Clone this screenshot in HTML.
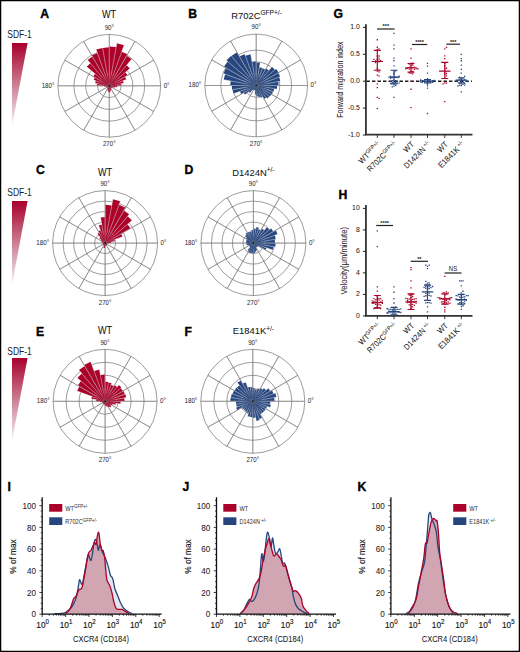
<!DOCTYPE html>
<html><head><meta charset="utf-8"><style>
html,body{margin:0;padding:0;background:#fff;width:520px;height:652px;overflow:hidden;}
svg{display:block;font-family:"Liberation Sans", sans-serif;}
</style></head><body>
<svg width="520" height="652" viewBox="0 0 520 652">
<rect x="0" y="0" width="520" height="652" fill="#fff"/>
<text transform="translate(40.20,18.00)" font-size="12.2" text-anchor="start" font-weight="bold" fill="#000" stroke="#000" stroke-width="0.35">A</text>
<text transform="translate(188.30,18.00)" font-size="12.2" text-anchor="start" font-weight="bold" fill="#000" stroke="#000" stroke-width="0.35">B</text>
<text transform="translate(109.00,18.20) scale(0.86,1)" font-size="10.6" text-anchor="middle" font-weight="normal" fill="#111" stroke="#111" stroke-width="0.05">WT</text>
<text transform="translate(256.50,18.50) scale(0.95,1)" font-size="9.9" text-anchor="middle" font-weight="normal" fill="#111" stroke="#111" stroke-width="0.05">R702C<tspan font-size="6.9" dy="-3.8">GFP+/-</tspan></text>
<defs><linearGradient id="g1" x1="0" y1="0" x2="0" y2="1"><stop offset="0" stop-color="#a8002c"/><stop offset="0.55" stop-color="#cf8a9c"/><stop offset="1" stop-color="#f4f2f3"/></linearGradient></defs>
<path d="M12,43L27.6,43L12,126Z" fill="url(#g1)"/>
<text transform="translate(19.50,38.00) scale(0.82,1)" font-size="10.4" text-anchor="middle" font-weight="normal" fill="#222">SDF-1</text>
<circle cx="109.30" cy="85.80" r="11.80" fill="none" stroke="#5a5a5a" stroke-width="0.6"/>
<circle cx="109.30" cy="85.80" r="23.60" fill="none" stroke="#5a5a5a" stroke-width="0.6"/>
<circle cx="109.30" cy="85.80" r="35.40" fill="none" stroke="#5a5a5a" stroke-width="0.6"/>
<circle cx="109.30" cy="85.80" r="51.40" fill="none" stroke="#5a5a5a" stroke-width="0.6"/>
<path d="M109.30,85.80L160.70,85.80M109.30,85.80L153.81,60.10M109.30,85.80L135.00,41.29M109.30,85.80L109.30,34.40M109.30,85.80L83.60,41.29M109.30,85.80L64.79,60.10M109.30,85.80L57.90,85.80M109.30,85.80L64.79,111.50M109.30,85.80L83.60,130.31M109.30,85.80L109.30,137.20M109.30,85.80L135.00,130.31M109.30,85.80L153.81,111.50" stroke="#5a5a5a" stroke-width="0.6" fill="none"/>
<path d="M109.30,85.80L121.30,85.80L121.12,83.72ZM109.30,85.80L123.68,83.26L123.02,80.81ZM109.30,85.80L126.31,79.61L124.98,76.75ZM109.30,85.80L127.49,75.30L125.39,72.30ZM109.30,85.80L129.91,68.51L126.59,65.19ZM109.30,85.80L131.67,59.14L126.70,55.66ZM109.30,85.80L127.45,54.36L121.72,51.69ZM109.30,85.80L124.08,45.21L116.80,43.26ZM109.30,85.80L116.14,47.00L109.30,46.40ZM109.30,85.80L109.30,47.30L102.61,47.88ZM109.30,85.80L102.61,47.88L96.13,49.62ZM109.30,85.80L97.33,52.91L91.80,55.49ZM109.30,85.80L92.40,56.53L87.57,59.91ZM109.30,85.80L90.34,63.20L86.70,66.84ZM109.30,85.80L95.05,73.84L93.19,76.50ZM109.30,85.80L94.92,77.50L93.70,80.12ZM109.30,85.80L95.77,80.87L95.12,83.30ZM109.30,85.80L96.99,83.63L96.80,85.80ZM109.30,85.80L104.30,85.80L104.38,86.67ZM109.30,85.80L106.35,86.32L106.48,86.83ZM109.30,85.80L106.95,86.66L107.13,87.05ZM109.30,85.80L107.13,87.05L107.38,87.41ZM109.30,85.80L107.38,87.41L107.69,87.72ZM109.30,85.80L107.37,88.10L107.80,88.40ZM109.30,85.80L107.30,89.26L107.93,89.56ZM109.30,85.80L107.59,90.50L108.43,90.72ZM109.30,85.80L108.17,92.20L109.30,92.30ZM109.30,85.80L109.30,92.30L110.43,92.20ZM109.30,85.80L110.17,90.72L111.01,90.50ZM109.30,85.80L110.67,89.56L111.30,89.26ZM109.30,85.80L110.80,88.40L111.23,88.10ZM109.30,85.80L111.23,88.10L111.60,87.73ZM109.30,85.80L111.60,87.73L111.90,87.30ZM109.30,85.80L112.76,87.80L113.06,87.17ZM109.30,85.80L114.94,87.85L115.21,86.84ZM109.30,85.80L117.18,87.19L117.30,85.80Z" fill="#aa0229"/>
<path d="M112.25,85.28L114.72,84.84M112.12,84.77L114.47,83.92M111.90,84.30L114.06,83.05M111.60,83.87L113.51,82.26M111.23,83.50L112.84,81.59M110.80,83.20L112.05,81.04M110.33,82.98L111.18,80.63M109.82,82.85L110.26,80.38M109.30,82.80L109.30,80.30M108.78,82.85L108.34,80.38M108.27,82.98L107.42,80.63M107.80,83.20L106.55,81.04M107.37,83.50L105.76,81.59M107.00,83.87L105.09,82.26M106.70,84.30L104.54,83.05M106.48,84.77L104.13,83.92M106.35,85.28L103.88,84.84M106.30,85.80L103.80,85.80M106.35,86.32L104.38,86.67M107.80,88.40L107.30,89.26M108.27,88.62L107.59,90.50M108.78,88.75L108.34,91.22M109.30,88.80L109.30,91.30M109.82,88.75L110.26,91.22M110.33,88.62L111.01,90.50M110.80,88.40L111.30,89.26M111.90,87.30L112.76,87.80M112.12,86.83L114.47,87.68M112.25,86.32L114.72,86.76M112.30,85.80L114.80,85.80" stroke="#fff" stroke-opacity="0.12" stroke-width="0.3" fill="none"/>
<path d="M114.72,84.84L117.18,84.41M114.47,83.92L116.82,83.06M114.06,83.05L116.23,81.80M113.51,82.26L115.43,80.66M112.84,81.59L114.44,79.67M112.05,81.04L113.30,78.87M111.18,80.63L112.04,78.28M110.26,80.38L110.69,77.92M109.30,80.30L109.30,77.80M108.34,80.38L107.91,77.92M107.42,80.63L106.56,78.28M106.55,81.04L105.30,78.87M105.76,81.59L104.16,79.67M105.09,82.26L103.17,80.66M104.54,83.05L102.37,81.80M104.13,83.92L101.78,83.06M103.88,84.84L101.42,84.41M103.80,85.80L101.30,85.80M108.34,91.22L108.17,92.20M109.30,91.30L109.30,92.30M110.26,91.22L110.43,92.20M114.47,87.68L114.94,87.85M114.72,86.76L117.18,87.19M114.80,85.80L117.30,85.80" stroke="#fff" stroke-opacity="0.35" stroke-width="0.38" fill="none"/>
<path d="M117.18,84.41L119.64,83.98M116.82,83.06L119.17,82.21M116.23,81.80L118.39,80.55M115.43,80.66L117.34,79.05M114.44,79.67L116.05,77.76M113.30,78.87L114.55,76.71M112.04,78.28L112.89,75.93M110.69,77.92L111.12,75.46M109.30,77.80L109.30,75.30M107.91,77.92L107.48,75.46M106.56,78.28L105.71,75.93M105.30,78.87L104.05,76.71M104.16,79.67L102.55,77.76M103.17,80.66L101.26,79.05M102.37,81.80L100.21,80.55M101.78,83.06L99.43,82.21M101.42,84.41L98.96,83.98M101.30,85.80L98.80,85.80M117.30,85.80L119.80,85.80" stroke="#fff" stroke-opacity="0.6" stroke-width="0.45" fill="none"/>
<path d="M119.64,83.98L123.68,83.26M119.17,82.21L126.31,79.61M118.39,80.55L127.49,75.30M117.34,79.05L129.91,68.51M116.05,77.76L131.67,59.14M114.55,76.71L127.45,54.36M112.89,75.93L124.08,45.21M111.12,75.46L116.80,43.26M109.30,75.30L109.30,46.40M107.48,75.46L102.61,47.88M105.71,75.93L96.13,49.62M104.05,76.71L91.80,55.49M102.55,77.76L87.57,59.91M101.26,79.05L86.70,66.84M100.21,80.55L93.19,76.50M99.43,82.21L93.70,80.12M98.96,83.98L95.12,83.30M98.80,85.80L96.80,85.80M119.80,85.80L121.30,85.80" stroke="#fff" stroke-opacity="0.85" stroke-width="0.5" fill="none"/>
<path d="M109.30,85.80L160.70,85.80M109.30,85.80L153.81,60.10M109.30,85.80L135.00,41.29M109.30,85.80L109.30,34.40M109.30,85.80L83.60,41.29M109.30,85.80L64.79,60.10M109.30,85.80L57.90,85.80M109.30,85.80L64.79,111.50M109.30,85.80L83.60,130.31M109.30,85.80L109.30,137.20M109.30,85.80L135.00,130.31M109.30,85.80L153.81,111.50" stroke="#8a8a8a" stroke-opacity="0.75" stroke-width="0.6" fill="none"/>
<circle cx="109.30" cy="85.80" r="1" fill="#111"/>
<text transform="translate(109.30,29.60) scale(0.92,1)" font-size="6.7" text-anchor="middle" font-weight="normal" fill="#222">90°</text>
<text transform="translate(109.30,146.20) scale(0.92,1)" font-size="6.7" text-anchor="middle" font-weight="normal" fill="#222">270°</text>
<text transform="translate(163.70,87.70) scale(0.92,1)" font-size="6.7" text-anchor="start" font-weight="normal" fill="#222">0°</text>
<text transform="translate(54.40,87.70) scale(0.92,1)" font-size="6.7" text-anchor="end" font-weight="normal" fill="#222">180°</text>
<circle cx="256.20" cy="85.50" r="11.80" fill="none" stroke="#5a5a5a" stroke-width="0.6"/>
<circle cx="256.20" cy="85.50" r="23.60" fill="none" stroke="#5a5a5a" stroke-width="0.6"/>
<circle cx="256.20" cy="85.50" r="35.40" fill="none" stroke="#5a5a5a" stroke-width="0.6"/>
<circle cx="256.20" cy="85.50" r="51.40" fill="none" stroke="#5a5a5a" stroke-width="0.6"/>
<path d="M256.20,85.50L307.60,85.50M256.20,85.50L300.71,59.80M256.20,85.50L281.90,40.99M256.20,85.50L256.20,34.10M256.20,85.50L230.50,40.99M256.20,85.50L211.69,59.80M256.20,85.50L204.80,85.50M256.20,85.50L211.69,111.20M256.20,85.50L230.50,130.01M256.20,85.50L256.20,136.90M256.20,85.50L281.90,130.01M256.20,85.50L300.71,111.20" stroke="#5a5a5a" stroke-width="0.6" fill="none"/>
<path d="M256.20,85.50L278.70,85.50L278.36,81.59ZM256.20,85.50L280.33,81.25L279.22,77.12ZM256.20,85.50L280.16,76.78L278.28,72.75ZM256.20,85.50L278.63,72.55L276.04,68.85ZM256.20,85.50L274.89,69.82L271.88,66.81ZM256.20,85.50L268.86,70.41L266.05,68.44ZM256.20,85.50L265.40,69.57L262.49,68.21ZM256.20,85.50L262.56,68.02L259.43,67.18ZM256.20,85.50L260.19,62.85L256.20,62.50ZM256.20,85.50L256.20,61.50L252.03,61.86ZM256.20,85.50L250.70,54.28L245.36,55.71ZM256.20,85.50L244.74,54.02L239.45,56.49ZM256.20,85.50L236.95,52.16L231.45,56.01ZM256.20,85.50L231.20,55.70L226.40,60.50ZM256.20,85.50L227.63,61.52L223.90,66.85ZM256.20,85.50L225.98,68.05L223.40,73.56ZM256.20,85.50L225.10,74.18L223.60,79.75ZM256.20,85.50L230.59,80.99L230.20,85.50ZM256.20,85.50L231.70,85.50L232.07,89.75ZM256.20,85.50L232.56,89.67L233.65,93.71ZM256.20,85.50L239.94,91.42L241.22,94.15ZM256.20,85.50L243.64,92.75L245.09,94.82ZM256.20,85.50L248.69,91.80L249.90,93.01ZM256.20,85.50L252.99,89.33L253.70,89.83ZM256.20,85.50L253.70,89.83L254.49,90.20ZM256.20,85.50L254.49,90.20L255.33,90.42ZM256.20,85.50L254.64,94.36L256.20,94.50ZM256.20,85.50L256.20,96.20L258.06,96.04ZM256.20,85.50L258.34,97.61L260.41,97.06ZM256.20,85.50L260.68,97.81L262.75,96.84ZM256.20,85.50L264.05,99.10L266.29,97.53ZM256.20,85.50L267.13,98.52L269.22,96.43ZM256.20,85.50L269.61,96.75L271.36,94.25ZM256.20,85.50L271.79,94.50L273.11,91.66ZM256.20,85.50L273.49,91.79L274.32,88.70ZM256.20,85.50L276.88,89.15L277.20,85.50Z" fill="#27467f"/>
<path d="M259.15,84.98L261.62,84.54M259.02,84.47L261.37,83.62M258.80,84.00L260.96,82.75M258.50,83.57L260.41,81.96M258.13,83.20L259.74,81.29M257.70,82.90L258.95,80.74M257.23,82.68L258.08,80.33M256.72,82.55L257.16,80.08M256.20,82.50L256.20,80.00M255.68,82.55L255.24,80.08M255.17,82.68L254.32,80.33M254.70,82.90L253.45,80.74M254.27,83.20L252.66,81.29M253.90,83.57L251.99,81.96M253.60,84.00L251.44,82.75M253.38,84.47L251.03,83.62M253.25,84.98L250.78,84.54M253.20,85.50L250.70,85.50M253.25,86.02L250.78,86.46M253.38,86.53L251.03,87.38M253.60,87.00L251.44,88.25M253.90,87.43L251.99,89.04M254.27,87.80L252.66,89.71M254.70,88.10L253.70,89.83M255.17,88.32L254.49,90.20M255.68,88.45L255.24,90.92M256.20,88.50L256.20,91.00M256.72,88.45L257.16,90.92M257.23,88.32L258.08,90.67M257.70,88.10L258.95,90.26M258.13,87.80L259.74,89.71M258.50,87.43L260.41,89.04M258.80,87.00L260.96,88.25M259.02,86.53L261.37,87.38M259.15,86.02L261.62,86.46M259.20,85.50L261.70,85.50" stroke="#fff" stroke-opacity="0.12" stroke-width="0.3" fill="none"/>
<path d="M261.62,84.54L264.08,84.11M261.37,83.62L263.72,82.76M260.96,82.75L263.13,81.50M260.41,81.96L262.33,80.36M259.74,81.29L261.34,79.37M258.95,80.74L260.20,78.57M258.08,80.33L258.94,77.98M257.16,80.08L257.59,77.62M256.20,80.00L256.20,77.50M255.24,80.08L254.81,77.62M254.32,80.33L253.46,77.98M253.45,80.74L252.20,78.57M252.66,81.29L251.06,79.37M251.99,81.96L250.07,80.36M251.44,82.75L249.27,81.50M251.03,83.62L248.68,82.76M250.78,84.54L248.32,84.11M250.70,85.50L248.20,85.50M250.78,86.46L248.32,86.89M251.03,87.38L248.68,88.24M251.44,88.25L249.27,89.50M251.99,89.04L250.07,90.64M252.66,89.71L251.06,91.63M255.24,90.92L254.81,93.38M256.20,91.00L256.20,93.50M257.16,90.92L257.59,93.38M258.08,90.67L258.94,93.02M258.95,90.26L260.20,92.43M259.74,89.71L261.34,91.63M260.41,89.04L262.33,90.64M260.96,88.25L263.13,89.50M261.37,87.38L263.72,88.24M261.62,86.46L264.08,86.89M261.70,85.50L264.20,85.50" stroke="#fff" stroke-opacity="0.35" stroke-width="0.38" fill="none"/>
<path d="M264.08,84.11L266.54,83.68M263.72,82.76L266.07,81.91M263.13,81.50L265.29,80.25M262.33,80.36L264.24,78.75M261.34,79.37L262.95,77.46M260.20,78.57L261.45,76.41M258.94,77.98L259.79,75.63M257.59,77.62L258.02,75.16M256.20,77.50L256.20,75.00M254.81,77.62L254.38,75.16M253.46,77.98L252.61,75.63M252.20,78.57L250.95,76.41M251.06,79.37L249.45,77.46M250.07,80.36L248.16,78.75M249.27,81.50L247.11,80.25M248.68,82.76L246.33,81.91M248.32,84.11L245.86,83.68M248.20,85.50L245.70,85.50M248.32,86.89L245.86,87.32M248.68,88.24L246.33,89.09M249.27,89.50L247.11,90.75M250.07,90.64L248.16,92.25M251.06,91.63L249.90,93.01M254.81,93.38L254.64,94.36M256.20,93.50L256.20,96.00M257.59,93.38L258.02,95.84M258.94,93.02L259.79,95.37M260.20,92.43L261.45,94.59M261.34,91.63L262.95,93.54M262.33,90.64L264.24,92.25M263.13,89.50L265.29,90.75M263.72,88.24L266.07,89.09M264.08,86.89L266.54,87.32M264.20,85.50L266.70,85.50" stroke="#fff" stroke-opacity="0.6" stroke-width="0.45" fill="none"/>
<path d="M266.54,83.68L280.33,81.25M266.07,81.91L280.16,76.78M265.29,80.25L278.63,72.55M264.24,78.75L276.04,68.85M262.95,77.46L271.88,66.81M261.45,76.41L266.05,68.44M259.79,75.63L262.56,68.02M258.02,75.16L260.19,62.85M256.20,75.00L256.20,61.50M254.38,75.16L250.70,54.28M252.61,75.63L244.74,54.02M250.95,76.41L236.95,52.16M249.45,77.46L231.20,55.70M248.16,78.75L226.40,60.50M247.11,80.25L223.90,66.85M246.33,81.91L223.40,73.56M245.86,83.68L223.60,79.75M245.70,85.50L230.20,85.50M245.86,87.32L232.07,89.75M246.33,89.09L233.65,93.71M247.11,90.75L241.22,94.15M248.16,92.25L245.09,94.82M256.20,96.00L256.20,96.20M258.02,95.84L258.34,97.61M259.79,95.37L260.68,97.81M261.45,94.59L264.05,99.10M262.95,93.54L267.13,98.52M264.24,92.25L269.61,96.75M265.29,90.75L271.79,94.50M266.07,89.09L273.49,91.79M266.54,87.32L276.88,89.15M266.70,85.50L278.70,85.50" stroke="#fff" stroke-opacity="0.85" stroke-width="0.5" fill="none"/>
<path d="M256.20,85.50L307.60,85.50M256.20,85.50L300.71,59.80M256.20,85.50L281.90,40.99M256.20,85.50L256.20,34.10M256.20,85.50L230.50,40.99M256.20,85.50L211.69,59.80M256.20,85.50L204.80,85.50M256.20,85.50L211.69,111.20M256.20,85.50L230.50,130.01M256.20,85.50L256.20,136.90M256.20,85.50L281.90,130.01M256.20,85.50L300.71,111.20" stroke="#8a8a8a" stroke-opacity="0.75" stroke-width="0.6" fill="none"/>
<circle cx="256.20" cy="85.50" r="1" fill="#111"/>
<text transform="translate(256.20,29.30) scale(0.92,1)" font-size="6.7" text-anchor="middle" font-weight="normal" fill="#222">90°</text>
<text transform="translate(256.20,145.90) scale(0.92,1)" font-size="6.7" text-anchor="middle" font-weight="normal" fill="#222">270°</text>
<text transform="translate(310.60,87.40) scale(0.92,1)" font-size="6.7" text-anchor="start" font-weight="normal" fill="#222">0°</text>
<text transform="translate(201.30,87.40) scale(0.92,1)" font-size="6.7" text-anchor="end" font-weight="normal" fill="#222">180°</text>
<text transform="translate(36.00,174.40)" font-size="12.2" text-anchor="start" font-weight="bold" fill="#000" stroke="#000" stroke-width="0.35">C</text>
<text transform="translate(184.50,174.40)" font-size="12.2" text-anchor="start" font-weight="bold" fill="#000" stroke="#000" stroke-width="0.35">D</text>
<text transform="translate(105.00,175.70) scale(0.86,1)" font-size="10.6" text-anchor="middle" font-weight="normal" fill="#111" stroke="#111" stroke-width="0.05">WT</text>
<text transform="translate(253.40,175.70) scale(0.95,1)" font-size="9.9" text-anchor="middle" font-weight="normal" fill="#111" stroke="#111" stroke-width="0.05">D1424N<tspan font-size="6.9" dy="-3.8">+/-</tspan></text>
<defs><linearGradient id="g2" x1="0" y1="0" x2="0" y2="1"><stop offset="0" stop-color="#a8002c"/><stop offset="0.55" stop-color="#cf8a9c"/><stop offset="1" stop-color="#f4f2f3"/></linearGradient></defs>
<path d="M12,201L27.6,201L12,285Z" fill="url(#g2)"/>
<text transform="translate(19.50,196.00) scale(0.82,1)" font-size="10.4" text-anchor="middle" font-weight="normal" fill="#222">SDF-1</text>
<circle cx="105.10" cy="243.10" r="10.50" fill="none" stroke="#5a5a5a" stroke-width="0.6"/>
<circle cx="105.10" cy="243.10" r="21.00" fill="none" stroke="#5a5a5a" stroke-width="0.6"/>
<circle cx="105.10" cy="243.10" r="31.50" fill="none" stroke="#5a5a5a" stroke-width="0.6"/>
<circle cx="105.10" cy="243.10" r="42.00" fill="none" stroke="#5a5a5a" stroke-width="0.6"/>
<circle cx="105.10" cy="243.10" r="52.50" fill="none" stroke="#5a5a5a" stroke-width="0.6"/>
<path d="M105.10,243.10L157.60,243.10M105.10,243.10L150.57,216.85M105.10,243.10L131.35,197.63M105.10,243.10L105.10,190.60M105.10,243.10L78.85,197.63M105.10,243.10L59.63,216.85M105.10,243.10L52.60,243.10M105.10,243.10L59.63,269.35M105.10,243.10L78.85,288.57M105.10,243.10L105.10,295.60M105.10,243.10L131.35,288.57M105.10,243.10L150.57,269.35" stroke="#5a5a5a" stroke-width="0.6" fill="none"/>
<path d="M105.10,243.10L111.10,243.10L111.01,242.06ZM105.10,243.10L114.95,241.36L114.50,239.68ZM105.10,243.10L122.48,236.77L121.12,233.85ZM105.10,243.10L130.56,228.40L127.62,224.20ZM105.10,243.10L131.99,220.54L127.66,216.21ZM105.10,243.10L129.20,214.37L123.85,210.62ZM105.10,243.10L125.50,207.77L119.05,204.76ZM105.10,243.10L120.32,201.28L112.83,199.28ZM105.10,243.10L111.75,205.38L105.10,204.80ZM105.10,243.10L105.10,217.00L100.57,217.40ZM105.10,243.10L101.84,224.59L98.67,225.43ZM105.10,243.10L100.45,230.32L98.30,231.32ZM105.10,243.10L99.10,232.71L97.39,233.91ZM105.10,243.10L100.28,237.35L99.35,238.28ZM105.10,243.10L101.27,239.89L100.77,240.60ZM105.10,243.10L101.64,241.10L101.34,241.73ZM105.10,243.10L101.81,241.90L101.65,242.49ZM105.10,243.10L102.15,242.58L102.10,243.10ZM105.10,243.10L102.60,243.10L102.64,243.53ZM105.10,243.10L102.64,243.53L102.75,243.96ZM105.10,243.10L102.75,243.96L102.93,244.35ZM105.10,243.10L102.93,244.35L103.18,244.71ZM105.10,243.10L103.18,244.71L103.49,245.02ZM105.10,243.10L103.49,245.02L103.85,245.27ZM105.10,243.10L103.85,245.27L104.24,245.45ZM105.10,243.10L103.39,247.80L104.23,248.02ZM105.10,243.10L104.23,248.02L105.10,248.10ZM105.10,243.10L105.10,246.10L105.62,246.05ZM105.10,243.10L105.53,245.56L105.96,245.45ZM105.10,243.10L105.96,245.45L106.35,245.27ZM105.10,243.10L106.35,245.27L106.71,245.02ZM105.10,243.10L106.71,245.02L107.02,244.71ZM105.10,243.10L107.02,244.71L107.27,244.35ZM105.10,243.10L107.27,244.35L107.45,243.96ZM105.10,243.10L107.45,243.96L107.56,243.53ZM105.10,243.10L107.56,243.53L107.60,243.10Z" fill="#aa0229"/>
<path d="M108.05,242.58L110.52,242.14M107.92,242.07L110.27,241.22M107.70,241.60L109.86,240.35M107.40,241.17L109.31,239.56M107.03,240.80L108.64,238.89M106.60,240.50L107.85,238.34M106.13,240.28L106.98,237.93M105.62,240.15L106.06,237.68M105.10,240.10L105.10,237.60M104.58,240.15L104.14,237.68M104.07,240.28L103.22,237.93M103.60,240.50L102.35,238.34M103.17,240.80L101.56,238.89M102.80,241.17L100.89,239.56M102.50,241.60L100.77,240.60M102.28,242.07L101.34,241.73M102.15,242.58L101.65,242.49M104.07,245.92L103.39,247.80M104.58,246.05L104.23,248.02M105.10,246.10L105.10,248.10M108.10,243.10L110.60,243.10" stroke="#fff" stroke-opacity="0.12" stroke-width="0.3" fill="none"/>
<path d="M110.52,242.14L112.98,241.71M110.27,241.22L112.62,240.36M109.86,240.35L112.03,239.10M109.31,239.56L111.23,237.96M108.64,238.89L110.24,236.97M107.85,238.34L109.10,236.17M106.98,237.93L107.84,235.58M106.06,237.68L106.49,235.22M105.10,237.60L105.10,235.10M104.14,237.68L103.71,235.22M103.22,237.93L102.36,235.58M102.35,238.34L101.10,236.17M101.56,238.89L99.96,236.97M100.89,239.56L99.35,238.28M110.60,243.10L111.10,243.10" stroke="#fff" stroke-opacity="0.35" stroke-width="0.38" fill="none"/>
<path d="M112.98,241.71L114.95,241.36M112.62,240.36L114.97,239.51M112.03,239.10L114.19,237.85M111.23,237.96L113.14,236.35M110.24,236.97L111.85,235.06M109.10,236.17L110.35,234.01M107.84,235.58L108.69,233.23M106.49,235.22L106.92,232.76M105.10,235.10L105.10,232.60M103.71,235.22L103.28,232.76M102.36,235.58L101.51,233.23M101.10,236.17L99.85,234.01M99.96,236.97L98.35,235.06" stroke="#fff" stroke-opacity="0.6" stroke-width="0.45" fill="none"/>
<path d="M114.97,239.51L122.48,236.77M114.19,237.85L130.56,228.40M113.14,236.35L131.99,220.54M111.85,235.06L129.20,214.37M110.35,234.01L125.50,207.77M108.69,233.23L120.32,201.28M106.92,232.76L112.83,199.28M105.10,232.60L105.10,204.80M103.28,232.76L100.57,217.40M101.51,233.23L98.67,225.43M99.85,234.01L98.30,231.32M98.35,235.06L97.39,233.91" stroke="#fff" stroke-opacity="0.85" stroke-width="0.5" fill="none"/>
<path d="M105.10,243.10L157.60,243.10M105.10,243.10L150.57,216.85M105.10,243.10L131.35,197.63M105.10,243.10L105.10,190.60M105.10,243.10L78.85,197.63M105.10,243.10L59.63,216.85M105.10,243.10L52.60,243.10M105.10,243.10L59.63,269.35M105.10,243.10L78.85,288.57M105.10,243.10L105.10,295.60M105.10,243.10L131.35,288.57M105.10,243.10L150.57,269.35" stroke="#8a8a8a" stroke-opacity="0.75" stroke-width="0.6" fill="none"/>
<circle cx="105.10" cy="243.10" r="1" fill="#111"/>
<text transform="translate(105.10,185.80) scale(0.92,1)" font-size="6.7" text-anchor="middle" font-weight="normal" fill="#222">90°</text>
<text transform="translate(105.10,304.60) scale(0.92,1)" font-size="6.7" text-anchor="middle" font-weight="normal" fill="#222">270°</text>
<text transform="translate(160.60,245.00) scale(0.92,1)" font-size="6.7" text-anchor="start" font-weight="normal" fill="#222">0°</text>
<text transform="translate(49.10,245.00) scale(0.92,1)" font-size="6.7" text-anchor="end" font-weight="normal" fill="#222">180°</text>
<circle cx="253.40" cy="243.10" r="10.50" fill="none" stroke="#5a5a5a" stroke-width="0.6"/>
<circle cx="253.40" cy="243.10" r="21.00" fill="none" stroke="#5a5a5a" stroke-width="0.6"/>
<circle cx="253.40" cy="243.10" r="31.50" fill="none" stroke="#5a5a5a" stroke-width="0.6"/>
<circle cx="253.40" cy="243.10" r="42.00" fill="none" stroke="#5a5a5a" stroke-width="0.6"/>
<circle cx="253.40" cy="243.10" r="52.50" fill="none" stroke="#5a5a5a" stroke-width="0.6"/>
<path d="M253.40,243.10L305.90,243.10M253.40,243.10L298.87,216.85M253.40,243.10L279.65,197.63M253.40,243.10L253.40,190.60M253.40,243.10L227.15,197.63M253.40,243.10L207.93,216.85M253.40,243.10L200.90,243.10M253.40,243.10L207.93,269.35M253.40,243.10L227.15,288.57M253.40,243.10L253.40,295.60M253.40,243.10L279.65,288.57M253.40,243.10L298.87,269.35" stroke="#5a5a5a" stroke-width="0.6" fill="none"/>
<path d="M253.40,243.10L275.00,243.10L274.67,239.35ZM253.40,243.10L275.85,239.14L274.82,235.30ZM253.40,243.10L277.64,234.28L275.74,230.20ZM253.40,243.10L273.32,231.60L271.02,228.32ZM253.40,243.10L269.33,229.73L266.77,227.17ZM253.40,243.10L264.20,230.23L261.80,228.55ZM253.40,243.10L260.80,230.28L258.46,229.19ZM253.40,243.10L258.97,227.78L256.23,227.05ZM253.40,243.10L255.92,228.82L253.40,228.60ZM253.40,243.10L253.40,230.10L251.14,230.30ZM253.40,243.10L251.32,231.28L249.30,231.82ZM253.40,243.10L249.30,231.82L247.40,232.71ZM253.40,243.10L247.25,232.45L245.49,233.68ZM253.40,243.10L246.39,234.75L245.05,236.09ZM253.40,243.10L246.51,237.31L245.61,238.60ZM253.40,243.10L246.90,239.35L246.35,240.53ZM253.40,243.10L246.35,240.53L246.01,241.80ZM253.40,243.10L246.01,241.80L245.90,243.10ZM253.40,243.10L246.40,243.10L246.51,244.32ZM253.40,243.10L246.51,244.32L246.82,245.49ZM253.40,243.10L248.70,244.81L249.07,245.60ZM253.40,243.10L249.07,245.60L249.57,246.31ZM253.40,243.10L249.57,246.31L250.19,246.93ZM253.40,243.10L247.61,249.99L248.90,250.89ZM253.40,243.10L248.25,252.02L249.88,252.78ZM253.40,243.10L249.84,252.87L251.59,253.34ZM253.40,243.10L251.66,252.95L253.40,253.10ZM253.40,243.10L253.40,253.10L255.14,252.95ZM253.40,243.10L254.96,251.96L256.48,251.56ZM253.40,243.10L256.14,250.62L257.40,250.03ZM253.40,243.10L255.90,247.43L256.61,246.93ZM253.40,243.10L256.61,246.93L257.23,246.31ZM253.40,243.10L257.61,246.64L258.16,245.85ZM253.40,243.10L265.52,250.10L266.56,247.89ZM253.40,243.10L272.57,250.08L273.49,246.64ZM253.40,243.10L275.26,246.95L275.60,243.10Z" fill="#27467f"/>
<path d="M256.35,242.58L258.82,242.14M256.22,242.07L258.57,241.22M256.00,241.60L258.16,240.35M255.70,241.17L257.61,239.56M255.33,240.80L256.94,238.89M254.90,240.50L256.15,238.34M254.43,240.28L255.28,237.93M253.92,240.15L254.36,237.68M253.40,240.10L253.40,237.60M252.88,240.15L252.44,237.68M252.37,240.28L251.52,237.93M251.90,240.50L250.65,238.34M251.47,240.80L249.86,238.89M251.10,241.17L249.19,239.56M250.80,241.60L248.64,240.35M250.58,242.07L248.23,241.22M250.45,242.58L247.98,242.14M250.40,243.10L247.90,243.10M250.45,243.62L247.98,244.06M250.58,244.13L248.23,244.98M250.80,244.60L249.07,245.60M251.10,245.03L249.57,246.31M251.47,245.40L249.86,247.31M251.90,245.70L250.65,247.86M252.37,245.92L251.52,248.27M252.88,246.05L252.44,248.52M253.40,246.10L253.40,248.60M253.92,246.05L254.36,248.52M254.43,245.92L255.28,248.27M254.90,245.70L256.15,247.86M255.33,245.40L256.61,246.93M255.70,245.03L257.61,246.64M256.00,244.60L258.16,245.85M256.22,244.13L258.57,244.98M256.35,243.62L258.82,244.06M256.40,243.10L258.90,243.10" stroke="#fff" stroke-opacity="0.12" stroke-width="0.3" fill="none"/>
<path d="M258.82,242.14L261.28,241.71M258.57,241.22L260.92,240.36M258.16,240.35L260.33,239.10M257.61,239.56L259.53,237.96M256.94,238.89L258.54,236.97M256.15,238.34L257.40,236.17M255.28,237.93L256.14,235.58M254.36,237.68L254.79,235.22M253.40,237.60L253.40,235.10M252.44,237.68L252.01,235.22M251.52,237.93L250.66,235.58M250.65,238.34L249.40,236.17M249.86,238.89L248.26,236.97M249.19,239.56L247.27,237.96M248.64,240.35L246.47,239.10M248.23,241.22L246.35,240.53M247.98,242.14L246.01,241.80M247.90,243.10L245.90,243.10M247.98,244.06L246.51,244.32M248.23,244.98L246.82,245.49M249.86,247.31L248.26,249.23M250.65,247.86L249.40,250.03M251.52,248.27L250.66,250.62M252.44,248.52L252.01,250.98M253.40,248.60L253.40,251.10M254.36,248.52L254.79,250.98M255.28,248.27L256.14,250.62M256.15,247.86L257.40,250.03M258.16,245.85L260.33,247.10M258.57,244.98L260.92,245.84M258.82,244.06L261.28,244.49M258.90,243.10L261.40,243.10" stroke="#fff" stroke-opacity="0.35" stroke-width="0.38" fill="none"/>
<path d="M261.28,241.71L263.74,241.28M260.92,240.36L263.27,239.51M260.33,239.10L262.49,237.85M259.53,237.96L261.44,236.35M258.54,236.97L260.15,235.06M257.40,236.17L258.65,234.01M256.14,235.58L256.99,233.23M254.79,235.22L255.22,232.76M253.40,235.10L253.40,232.60M252.01,235.22L251.58,232.76M250.66,235.58L249.81,233.23M249.40,236.17L248.15,234.01M248.26,236.97L246.65,235.06M247.27,237.96L245.36,236.35M246.47,239.10L245.61,238.60M248.26,249.23L247.61,249.99M249.40,250.03L248.25,252.02M250.66,250.62L249.84,252.87M252.01,250.98L251.59,253.34M253.40,251.10L253.40,253.10M254.79,250.98L255.14,252.95M256.14,250.62L256.48,251.56M260.33,247.10L262.49,248.35M260.92,245.84L263.27,246.69M261.28,244.49L263.74,244.92M261.40,243.10L263.90,243.10" stroke="#fff" stroke-opacity="0.6" stroke-width="0.45" fill="none"/>
<path d="M263.74,241.28L275.85,239.14M263.27,239.51L277.64,234.28M262.49,237.85L275.74,230.20M261.44,236.35L271.02,228.32M260.15,235.06L266.77,227.17M258.65,234.01L261.80,228.55M256.99,233.23L258.97,227.78M255.22,232.76L256.23,227.05M253.40,232.60L253.40,228.60M251.58,232.76L251.14,230.30M249.81,233.23L249.30,231.82M248.15,234.01L247.25,232.45M246.65,235.06L245.49,233.68M245.36,236.35L245.05,236.09M262.49,248.35L265.52,250.10M263.27,246.69L272.57,250.08M263.74,244.92L275.26,246.95M263.90,243.10L275.60,243.10" stroke="#fff" stroke-opacity="0.85" stroke-width="0.5" fill="none"/>
<path d="M253.40,243.10L305.90,243.10M253.40,243.10L298.87,216.85M253.40,243.10L279.65,197.63M253.40,243.10L253.40,190.60M253.40,243.10L227.15,197.63M253.40,243.10L207.93,216.85M253.40,243.10L200.90,243.10M253.40,243.10L207.93,269.35M253.40,243.10L227.15,288.57M253.40,243.10L253.40,295.60M253.40,243.10L279.65,288.57M253.40,243.10L298.87,269.35" stroke="#8a8a8a" stroke-opacity="0.75" stroke-width="0.6" fill="none"/>
<circle cx="253.40" cy="243.10" r="1" fill="#111"/>
<text transform="translate(253.40,185.80) scale(0.92,1)" font-size="6.7" text-anchor="middle" font-weight="normal" fill="#222">90°</text>
<text transform="translate(253.40,304.60) scale(0.92,1)" font-size="6.7" text-anchor="middle" font-weight="normal" fill="#222">270°</text>
<text transform="translate(308.90,245.00) scale(0.92,1)" font-size="6.7" text-anchor="start" font-weight="normal" fill="#222">0°</text>
<text transform="translate(197.40,245.00) scale(0.92,1)" font-size="6.7" text-anchor="end" font-weight="normal" fill="#222">180°</text>
<text transform="translate(36.00,336.20)" font-size="12.2" text-anchor="start" font-weight="bold" fill="#000" stroke="#000" stroke-width="0.35">E</text>
<text transform="translate(184.50,336.20)" font-size="12.2" text-anchor="start" font-weight="bold" fill="#000" stroke="#000" stroke-width="0.35">F</text>
<text transform="translate(105.00,334.40) scale(0.86,1)" font-size="10.6" text-anchor="middle" font-weight="normal" fill="#111" stroke="#111" stroke-width="0.05">WT</text>
<text transform="translate(253.40,334.40) scale(0.95,1)" font-size="9.9" text-anchor="middle" font-weight="normal" fill="#111" stroke="#111" stroke-width="0.05">E1841K<tspan font-size="6.9" dy="-3.8">+/-</tspan></text>
<defs><linearGradient id="g3" x1="0" y1="0" x2="0" y2="1"><stop offset="0" stop-color="#a8002c"/><stop offset="0.55" stop-color="#cf8a9c"/><stop offset="1" stop-color="#f4f2f3"/></linearGradient></defs>
<path d="M12,358L27.6,358L12,441Z" fill="url(#g3)"/>
<text transform="translate(19.50,355.40) scale(0.82,1)" font-size="10.4" text-anchor="middle" font-weight="normal" fill="#222">SDF-1</text>
<circle cx="105.10" cy="401.30" r="13.00" fill="none" stroke="#5a5a5a" stroke-width="0.6"/>
<circle cx="105.10" cy="401.30" r="26.00" fill="none" stroke="#5a5a5a" stroke-width="0.6"/>
<circle cx="105.10" cy="401.30" r="39.00" fill="none" stroke="#5a5a5a" stroke-width="0.6"/>
<circle cx="105.10" cy="401.30" r="52.00" fill="none" stroke="#5a5a5a" stroke-width="0.6"/>
<path d="M105.10,401.30L157.10,401.30M105.10,401.30L150.13,375.30M105.10,401.30L131.10,356.27M105.10,401.30L105.10,349.30M105.10,401.30L79.10,356.27M105.10,401.30L60.07,375.30M105.10,401.30L53.10,401.30M105.10,401.30L60.07,427.30M105.10,401.30L79.10,446.33M105.10,401.30L105.10,453.30M105.10,401.30L131.10,446.33M105.10,401.30L150.13,427.30" stroke="#5a5a5a" stroke-width="0.6" fill="none"/>
<path d="M105.10,401.30L124.60,401.30L124.30,397.91ZM105.10,401.30L126.27,397.57L125.30,393.95ZM105.10,401.30L124.83,394.12L123.29,390.80ZM105.10,401.30L122.85,391.05L120.80,388.12ZM105.10,401.30L121.42,387.61L118.79,384.98ZM105.10,401.30L117.12,386.97L114.45,385.11ZM105.10,401.30L113.85,386.14L111.09,384.86ZM105.10,401.30L111.63,383.35L108.42,382.49ZM105.10,401.30L108.50,382.00L105.10,381.70ZM105.10,401.30L105.10,374.60L100.46,375.01ZM105.10,401.30L99.49,369.49L94.05,370.95ZM105.10,401.30L90.74,361.83L84.10,364.93ZM105.10,401.30L84.75,366.05L78.94,370.12ZM105.10,401.30L81.77,373.49L77.29,377.97ZM105.10,401.30L80.97,381.05L77.82,385.55ZM105.10,401.30L79.29,386.40L77.10,391.11ZM105.10,401.30L91.94,396.51L91.31,398.87ZM105.10,401.30L96.24,399.74L96.10,401.30ZM105.10,401.30L100.10,401.30L100.18,402.17ZM105.10,401.30L102.15,401.82L102.28,402.33ZM105.10,401.30L102.28,402.33L102.50,402.80ZM105.10,401.30L102.50,402.80L102.80,403.23ZM105.10,401.30L102.80,403.23L103.17,403.60ZM105.10,401.30L103.17,403.60L103.60,403.90ZM105.10,401.30L103.60,403.90L104.07,404.12ZM105.10,401.30L104.07,404.12L104.58,404.25ZM105.10,401.30L104.41,405.24L105.10,405.30ZM105.10,401.30L105.10,405.30L105.79,405.24ZM105.10,401.30L105.97,406.22L106.81,406.00ZM105.10,401.30L107.15,406.94L108.10,406.50ZM105.10,401.30L108.60,407.36L109.60,406.66ZM105.10,401.30L110.24,407.43L111.23,406.44ZM105.10,401.30L110.46,405.80L111.16,404.80ZM105.10,401.30L112.03,405.30L112.62,404.04ZM105.10,401.30L115.44,405.06L115.93,403.21ZM105.10,401.30L120.36,403.99L120.60,401.30Z" fill="#aa0229"/>
<path d="M108.05,400.78L110.52,400.34M107.92,400.27L110.27,399.42M107.70,399.80L109.86,398.55M107.40,399.37L109.31,397.76M107.03,399.00L108.64,397.09M106.60,398.70L107.85,396.54M106.13,398.48L106.98,396.13M105.62,398.35L106.06,395.88M105.10,398.30L105.10,395.80M104.58,398.35L104.14,395.88M104.07,398.48L103.22,396.13M103.60,398.70L102.35,396.54M103.17,399.00L101.56,397.09M102.80,399.37L100.89,397.76M102.50,399.80L100.34,398.55M102.28,400.27L99.93,399.42M102.15,400.78L99.68,400.34M102.10,401.30L99.60,401.30M102.15,401.82L100.18,402.17M104.58,404.25L104.41,405.24M105.10,404.30L105.10,405.30M105.62,404.25L105.97,406.22M106.13,404.12L106.98,406.47M106.60,403.90L107.85,406.06M107.03,403.60L108.64,405.51M107.40,403.23L109.31,404.84M107.70,402.80L109.86,404.05M107.92,402.33L110.27,403.18M108.05,401.82L110.52,402.26M108.10,401.30L110.60,401.30" stroke="#fff" stroke-opacity="0.12" stroke-width="0.3" fill="none"/>
<path d="M110.52,400.34L112.98,399.91M110.27,399.42L112.62,398.56M109.86,398.55L112.03,397.30M109.31,397.76L111.23,396.16M108.64,397.09L110.24,395.17M107.85,396.54L109.10,394.37M106.98,396.13L107.84,393.78M106.06,395.88L106.49,393.42M105.10,395.80L105.10,393.30M104.14,395.88L103.71,393.42M103.22,396.13L102.36,393.78M102.35,396.54L101.10,394.37M101.56,397.09L99.96,395.17M100.89,397.76L98.97,396.16M100.34,398.55L98.17,397.30M99.93,399.42L97.58,398.56M99.68,400.34L97.22,399.91M99.60,401.30L97.10,401.30M106.98,406.47L107.15,406.94M107.85,406.06L108.60,407.36M108.64,405.51L110.24,407.43M109.31,404.84L111.23,406.44M109.86,404.05L112.03,405.30M110.27,403.18L112.62,404.04M110.52,402.26L112.98,402.69M110.60,401.30L113.10,401.30" stroke="#fff" stroke-opacity="0.35" stroke-width="0.38" fill="none"/>
<path d="M112.98,399.91L115.44,399.48M112.62,398.56L114.97,397.71M112.03,397.30L114.19,396.05M111.23,396.16L113.14,394.55M110.24,395.17L111.85,393.26M109.10,394.37L110.35,392.21M107.84,393.78L108.69,391.43M106.49,393.42L106.92,390.96M105.10,393.30L105.10,390.80M103.71,393.42L103.28,390.96M102.36,393.78L101.51,391.43M101.10,394.37L99.85,392.21M99.96,395.17L98.35,393.26M98.97,396.16L97.06,394.55M98.17,397.30L96.01,396.05M97.58,398.56L95.23,397.71M97.22,399.91L94.76,399.48M97.10,401.30L96.10,401.30M112.62,404.04L114.97,404.89M112.98,402.69L115.44,403.12M113.10,401.30L115.60,401.30" stroke="#fff" stroke-opacity="0.6" stroke-width="0.45" fill="none"/>
<path d="M115.44,399.48L126.27,397.57M114.97,397.71L125.30,393.95M114.19,396.05L123.29,390.80M113.14,394.55L121.42,387.61M111.85,393.26L118.79,384.98M110.35,392.21L114.45,385.11M108.69,391.43L111.63,383.35M106.92,390.96L108.50,382.00M105.10,390.80L105.10,374.60M103.28,390.96L99.49,369.49M101.51,391.43L90.74,361.83M99.85,392.21L84.10,364.93M98.35,393.26L78.94,370.12M97.06,394.55L77.29,377.97M96.01,396.05L77.82,385.55M95.23,397.71L77.10,391.11M94.76,399.48L91.31,398.87M114.97,404.89L115.44,405.06M115.44,403.12L120.36,403.99M115.60,401.30L124.60,401.30" stroke="#fff" stroke-opacity="0.85" stroke-width="0.5" fill="none"/>
<path d="M105.10,401.30L157.10,401.30M105.10,401.30L150.13,375.30M105.10,401.30L131.10,356.27M105.10,401.30L105.10,349.30M105.10,401.30L79.10,356.27M105.10,401.30L60.07,375.30M105.10,401.30L53.10,401.30M105.10,401.30L60.07,427.30M105.10,401.30L79.10,446.33M105.10,401.30L105.10,453.30M105.10,401.30L131.10,446.33M105.10,401.30L150.13,427.30" stroke="#8a8a8a" stroke-opacity="0.75" stroke-width="0.6" fill="none"/>
<circle cx="105.10" cy="401.30" r="1" fill="#111"/>
<text transform="translate(105.10,344.50) scale(0.92,1)" font-size="6.7" text-anchor="middle" font-weight="normal" fill="#222">90°</text>
<text transform="translate(105.10,462.30) scale(0.92,1)" font-size="6.7" text-anchor="middle" font-weight="normal" fill="#222">270°</text>
<text transform="translate(160.10,403.20) scale(0.92,1)" font-size="6.7" text-anchor="start" font-weight="normal" fill="#222">0°</text>
<text transform="translate(49.60,403.20) scale(0.92,1)" font-size="6.7" text-anchor="end" font-weight="normal" fill="#222">180°</text>
<circle cx="252.80" cy="401.30" r="13.00" fill="none" stroke="#5a5a5a" stroke-width="0.6"/>
<circle cx="252.80" cy="401.30" r="26.00" fill="none" stroke="#5a5a5a" stroke-width="0.6"/>
<circle cx="252.80" cy="401.30" r="39.00" fill="none" stroke="#5a5a5a" stroke-width="0.6"/>
<circle cx="252.80" cy="401.30" r="52.00" fill="none" stroke="#5a5a5a" stroke-width="0.6"/>
<path d="M252.80,401.30L304.80,401.30M252.80,401.30L297.83,375.30M252.80,401.30L278.80,356.27M252.80,401.30L252.80,349.30M252.80,401.30L226.80,356.27M252.80,401.30L207.77,375.30M252.80,401.30L200.80,401.30M252.80,401.30L207.77,427.30M252.80,401.30L226.80,446.33M252.80,401.30L252.80,453.30M252.80,401.30L278.80,446.33M252.80,401.30L297.83,427.30" stroke="#5a5a5a" stroke-width="0.6" fill="none"/>
<path d="M252.80,401.30L274.60,401.30L274.27,397.51ZM252.80,401.30L276.44,397.13L275.35,393.09ZM252.80,401.30L273.57,393.74L271.94,390.25ZM252.80,401.30L270.38,391.15L268.35,388.25ZM252.80,401.30L265.98,390.24L263.86,388.12ZM252.80,401.30L262.70,389.50L260.50,387.96ZM252.80,401.30L259.75,389.26L257.55,388.24ZM252.80,401.30L257.01,389.74L254.94,389.19ZM252.80,401.30L255.06,388.50L252.80,388.30ZM252.80,401.30L252.80,387.00L250.32,387.22ZM252.80,401.30L250.25,386.82L247.77,387.49ZM252.80,401.30L245.86,382.22L242.65,383.72ZM252.80,401.30L240.75,380.43L237.31,382.84ZM252.80,401.30L239.37,385.29L236.79,387.87ZM252.80,401.30L236.48,387.61L234.35,390.65ZM252.80,401.30L234.01,390.45L232.41,393.88ZM252.80,401.30L231.84,393.67L230.84,397.43ZM252.80,401.30L230.64,397.39L230.30,401.30ZM252.80,401.30L235.80,401.30L236.06,404.25ZM252.80,401.30L236.16,404.23L236.92,407.08ZM252.80,401.30L235.98,407.42L237.30,410.25ZM252.80,401.30L241.97,407.55L243.22,409.33ZM252.80,401.30L243.68,408.95L245.15,410.42ZM252.80,401.30L244.96,410.65L246.70,411.87ZM252.80,401.30L246.50,412.21L248.49,413.14ZM252.80,401.30L247.40,416.15L250.06,416.86ZM252.80,401.30L250.02,417.06L252.80,417.30ZM252.80,401.30L252.80,417.70L255.65,417.45ZM252.80,401.30L256.26,420.90L259.61,420.00ZM252.80,401.30L259.26,419.06L262.25,417.67ZM252.80,401.30L260.30,414.29L262.44,412.79ZM252.80,401.30L262.44,412.79L264.29,410.94ZM252.80,401.30L264.29,410.94L265.79,408.80ZM252.80,401.30L265.96,408.90L267.08,406.50ZM252.80,401.30L270.09,407.59L270.92,404.50ZM252.80,401.30L270.13,404.36L270.40,401.30Z" fill="#27467f"/>
<path d="M255.75,400.78L258.22,400.34M255.62,400.27L257.97,399.42M255.40,399.80L257.56,398.55M255.10,399.37L257.01,397.76M254.73,399.00L256.34,397.09M254.30,398.70L255.55,396.54M253.83,398.48L254.68,396.13M253.32,398.35L253.76,395.88M252.80,398.30L252.80,395.80M252.28,398.35L251.84,395.88M251.77,398.48L250.92,396.13M251.30,398.70L250.05,396.54M250.87,399.00L249.26,397.09M250.50,399.37L248.59,397.76M250.20,399.80L248.04,398.55M249.98,400.27L247.63,399.42M249.85,400.78L247.38,400.34M249.80,401.30L247.30,401.30M249.85,401.82L247.38,402.26M249.98,402.33L247.63,403.18M250.20,402.80L248.04,404.05M250.50,403.23L248.59,404.84M250.87,403.60L249.26,405.51M251.30,403.90L250.05,406.06M251.77,404.12L250.92,406.47M252.28,404.25L251.84,406.72M252.80,404.30L252.80,406.80M253.32,404.25L253.76,406.72M253.83,404.12L254.68,406.47M254.30,403.90L255.55,406.06M254.73,403.60L256.34,405.51M255.10,403.23L257.01,404.84M255.40,402.80L257.56,404.05M255.62,402.33L257.97,403.18M255.75,401.82L258.22,402.26M255.80,401.30L258.30,401.30" stroke="#fff" stroke-opacity="0.12" stroke-width="0.3" fill="none"/>
<path d="M258.22,400.34L260.68,399.91M257.97,399.42L260.32,398.56M257.56,398.55L259.73,397.30M257.01,397.76L258.93,396.16M256.34,397.09L257.94,395.17M255.55,396.54L256.80,394.37M254.68,396.13L255.54,393.78M253.76,395.88L254.19,393.42M252.80,395.80L252.80,393.30M251.84,395.88L251.41,393.42M250.92,396.13L250.06,393.78M250.05,396.54L248.80,394.37M249.26,397.09L247.66,395.17M248.59,397.76L246.67,396.16M248.04,398.55L245.87,397.30M247.63,399.42L245.28,398.56M247.38,400.34L244.92,399.91M247.30,401.30L244.80,401.30M247.38,402.26L244.92,402.69M247.63,403.18L245.28,404.04M248.04,404.05L245.87,405.30M248.59,404.84L246.67,406.44M249.26,405.51L247.66,407.43M250.05,406.06L248.80,408.23M250.92,406.47L250.06,408.82M251.84,406.72L251.41,409.18M252.80,406.80L252.80,409.30M253.76,406.72L254.19,409.18M254.68,406.47L255.54,408.82M255.55,406.06L256.80,408.23M256.34,405.51L257.94,407.43M257.01,404.84L258.93,406.44M257.56,404.05L259.73,405.30M257.97,403.18L260.32,404.04M258.22,402.26L260.68,402.69M258.30,401.30L260.80,401.30" stroke="#fff" stroke-opacity="0.35" stroke-width="0.38" fill="none"/>
<path d="M260.68,399.91L263.14,399.48M260.32,398.56L262.67,397.71M259.73,397.30L261.89,396.05M258.93,396.16L260.84,394.55M257.94,395.17L259.55,393.26M256.80,394.37L258.05,392.21M255.54,393.78L256.39,391.43M254.19,393.42L254.62,390.96M252.80,393.30L252.80,390.80M251.41,393.42L250.98,390.96M250.06,393.78L249.21,391.43M248.80,394.37L247.55,392.21M247.66,395.17L246.05,393.26M246.67,396.16L244.76,394.55M245.87,397.30L243.71,396.05M245.28,398.56L242.93,397.71M244.92,399.91L242.46,399.48M244.80,401.30L242.30,401.30M244.92,402.69L242.46,403.12M245.28,404.04L242.93,404.89M245.87,405.30L243.71,406.55M246.67,406.44L244.76,408.05M247.66,407.43L246.05,409.34M248.80,408.23L247.55,410.39M250.06,408.82L249.21,411.17M251.41,409.18L250.98,411.64M252.80,409.30L252.80,411.80M254.19,409.18L254.62,411.64M255.54,408.82L256.39,411.17M256.80,408.23L258.05,410.39M257.94,407.43L259.55,409.34M258.93,406.44L260.84,408.05M259.73,405.30L261.89,406.55M260.32,404.04L262.67,404.89M260.68,402.69L263.14,403.12M260.80,401.30L263.30,401.30" stroke="#fff" stroke-opacity="0.6" stroke-width="0.45" fill="none"/>
<path d="M263.14,399.48L276.44,397.13M262.67,397.71L275.35,393.09M261.89,396.05L271.94,390.25M260.84,394.55L268.35,388.25M259.55,393.26L263.86,388.12M258.05,392.21L260.50,387.96M256.39,391.43L257.55,388.24M254.62,390.96L255.06,388.50M252.80,390.80L252.80,387.00M250.98,390.96L250.25,386.82M249.21,391.43L245.86,382.22M247.55,392.21L240.75,380.43M246.05,393.26L237.31,382.84M244.76,394.55L236.48,387.61M243.71,396.05L234.01,390.45M242.93,397.71L231.84,393.67M242.46,399.48L230.64,397.39M242.30,401.30L230.30,401.30M242.46,403.12L236.06,404.25M242.93,404.89L235.98,407.42M243.71,406.55L237.30,410.25M244.76,408.05L243.22,409.33M246.05,409.34L244.96,410.65M247.55,410.39L246.50,412.21M249.21,411.17L247.40,416.15M250.98,411.64L250.02,417.06M252.80,411.80L252.80,417.70M254.62,411.64L256.26,420.90M256.39,411.17L259.61,420.00M258.05,410.39L262.25,417.67M259.55,409.34L262.44,412.79M260.84,408.05L264.29,410.94M261.89,406.55L265.96,408.90M262.67,404.89L270.09,407.59M263.14,403.12L270.92,404.50M263.30,401.30L274.60,401.30" stroke="#fff" stroke-opacity="0.85" stroke-width="0.5" fill="none"/>
<path d="M252.80,401.30L304.80,401.30M252.80,401.30L297.83,375.30M252.80,401.30L278.80,356.27M252.80,401.30L252.80,349.30M252.80,401.30L226.80,356.27M252.80,401.30L207.77,375.30M252.80,401.30L200.80,401.30M252.80,401.30L207.77,427.30M252.80,401.30L226.80,446.33M252.80,401.30L252.80,453.30M252.80,401.30L278.80,446.33M252.80,401.30L297.83,427.30" stroke="#8a8a8a" stroke-opacity="0.75" stroke-width="0.6" fill="none"/>
<circle cx="252.80" cy="401.30" r="1" fill="#111"/>
<text transform="translate(252.80,344.50) scale(0.92,1)" font-size="6.7" text-anchor="middle" font-weight="normal" fill="#222">90°</text>
<text transform="translate(252.80,462.30) scale(0.92,1)" font-size="6.7" text-anchor="middle" font-weight="normal" fill="#222">270°</text>
<text transform="translate(307.80,403.20) scale(0.92,1)" font-size="6.7" text-anchor="start" font-weight="normal" fill="#222">0°</text>
<text transform="translate(197.30,403.20) scale(0.92,1)" font-size="6.7" text-anchor="end" font-weight="normal" fill="#222">180°</text>
<text transform="translate(333.50,17.90)" font-size="12.2" text-anchor="start" font-weight="bold" fill="#000" stroke="#000" stroke-width="0.35">G</text>
<path d="M366.5,81.2L472,81.2" stroke="#1a1a1a" stroke-width="1.4" stroke-dasharray="3.4,2.1"/>
<path d="M365.9,24.2L365.9,134.6M365.09999999999997,134.6L472.5,134.6" stroke="#333" stroke-width="1.8" fill="none"/>
<path d="M362.9,27.40L365.9,27.40" stroke="#222" stroke-width="1"/>
<text transform="translate(359.70,29.30) scale(0.94,1)" font-size="7.3" text-anchor="end" font-weight="normal" fill="#222" stroke="#222" stroke-width="0.05">1.0</text>
<path d="M362.9,54.30L365.9,54.30" stroke="#222" stroke-width="1"/>
<text transform="translate(359.70,56.20) scale(0.94,1)" font-size="7.3" text-anchor="end" font-weight="normal" fill="#222" stroke="#222" stroke-width="0.05">0.5</text>
<path d="M362.9,81.20L365.9,81.20" stroke="#222" stroke-width="1"/>
<text transform="translate(359.70,83.10) scale(0.94,1)" font-size="7.3" text-anchor="end" font-weight="normal" fill="#222" stroke="#222" stroke-width="0.05">0.0</text>
<path d="M362.9,108.10L365.9,108.10" stroke="#222" stroke-width="1"/>
<text transform="translate(359.70,110.00) scale(0.94,1)" font-size="7.3" text-anchor="end" font-weight="normal" fill="#222" stroke="#222" stroke-width="0.05">-0.5</text>
<path d="M362.9,135.00L365.9,135.00" stroke="#222" stroke-width="1"/>
<text transform="translate(359.70,136.90) scale(0.94,1)" font-size="7.3" text-anchor="end" font-weight="normal" fill="#222" stroke="#222" stroke-width="0.05">-1.0</text>
<path d="M377.3,134.6L377.3,137.9" stroke="#222" stroke-width="0.9"/>
<path d="M394.0,134.6L394.0,137.9" stroke="#222" stroke-width="0.9"/>
<path d="M411.0,134.6L411.0,137.9" stroke="#222" stroke-width="0.9"/>
<path d="M427.5,134.6L427.5,137.9" stroke="#222" stroke-width="0.9"/>
<path d="M444.8,134.6L444.8,137.9" stroke="#222" stroke-width="0.9"/>
<path d="M461.3,134.6L461.3,137.9" stroke="#222" stroke-width="0.9"/>
<path d="M376.65,60.60h1.3v1.3h-1.3zM378.35,61.27h1.3v1.3h-1.3zM374.95,60.34h1.3v1.3h-1.3zM380.05,60.00h1.3v1.3h-1.3zM374.95,62.05h1.3v1.3h-1.3zM378.35,59.35h1.3v1.3h-1.3zM376.65,58.71h1.3v1.3h-1.3zM373.25,58.68h1.3v1.3h-1.3zM378.35,57.54h1.3v1.3h-1.3zM376.65,55.43h1.3v1.3h-1.3zM378.35,55.35h1.3v1.3h-1.3zM376.65,68.05h1.3v1.3h-1.3zM378.35,69.49h1.3v1.3h-1.3zM376.65,70.54h1.3v1.3h-1.3zM378.35,71.22h1.3v1.3h-1.3zM376.65,48.71h1.3v1.3h-1.3zM378.35,48.17h1.3v1.3h-1.3zM376.65,74.56h1.3v1.3h-1.3zM376.65,46.61h1.3v1.3h-1.3zM378.35,75.23h1.3v1.3h-1.3zM376.65,39.12h1.3v1.3h-1.3zM376.65,83.24h1.3v1.3h-1.3zM376.65,87.01h1.3v1.3h-1.3zM376.65,96.69h1.3v1.3h-1.3zM378.35,97.77h1.3v1.3h-1.3zM376.65,107.99h1.3v1.3h-1.3z" fill="#aa0229"/>
<path d="M377.3,50.32L377.3,70.22M373.8,50.32L380.8,50.32M373.8,70.22L380.8,70.22M371.6,61.51L383.0,61.51" stroke="#aa0229" stroke-width="1.15" fill="none"/>
<path d="M393.35,76.42h1.3v1.3h-1.3zM395.05,76.62h1.3v1.3h-1.3zM391.65,76.83h1.3v1.3h-1.3zM396.75,77.07h1.3v1.3h-1.3zM389.95,75.74h1.3v1.3h-1.3zM398.45,75.59h1.3v1.3h-1.3zM389.95,77.58h1.3v1.3h-1.3zM393.35,79.40h1.3v1.3h-1.3zM393.35,73.37h1.3v1.3h-1.3zM395.05,79.97h1.3v1.3h-1.3zM391.65,80.09h1.3v1.3h-1.3zM396.75,80.62h1.3v1.3h-1.3zM389.95,80.81h1.3v1.3h-1.3zM393.35,81.43h1.3v1.3h-1.3zM393.35,71.45h1.3v1.3h-1.3zM395.05,81.86h1.3v1.3h-1.3zM391.65,81.90h1.3v1.3h-1.3zM396.75,82.40h1.3v1.3h-1.3zM398.45,82.46h1.3v1.3h-1.3zM389.95,82.74h1.3v1.3h-1.3zM395.05,70.09h1.3v1.3h-1.3zM393.35,83.64h1.3v1.3h-1.3zM395.05,84.67h1.3v1.3h-1.3zM393.35,85.40h1.3v1.3h-1.3zM391.65,86.13h1.3v1.3h-1.3zM393.35,65.28h1.3v1.3h-1.3zM393.35,60.11h1.3v1.3h-1.3zM393.35,57.42h1.3v1.3h-1.3zM393.35,96.69h1.3v1.3h-1.3zM393.35,48.27h1.3v1.3h-1.3zM393.35,44.50h1.3v1.3h-1.3zM393.35,32.67h1.3v1.3h-1.3z" fill="#27467f"/>
<path d="M394.0,70.22L394.0,83.89M390.5,70.22L397.5,70.22M390.5,83.89L397.5,83.89M388.3,77.17L399.7,77.17" stroke="#27467f" stroke-width="1.15" fill="none"/>
<path d="M410.35,67.22h1.3v1.3h-1.3zM412.05,67.26h1.3v1.3h-1.3zM408.65,66.74h1.3v1.3h-1.3zM413.75,66.51h1.3v1.3h-1.3zM406.95,67.75h1.3v1.3h-1.3zM415.45,68.00h1.3v1.3h-1.3zM405.25,68.08h1.3v1.3h-1.3zM417.15,68.08h1.3v1.3h-1.3zM408.65,68.48h1.3v1.3h-1.3zM413.75,68.75h1.3v1.3h-1.3zM410.35,64.89h1.3v1.3h-1.3zM412.05,64.35h1.3v1.3h-1.3zM410.35,70.61h1.3v1.3h-1.3zM412.05,70.77h1.3v1.3h-1.3zM408.65,63.36h1.3v1.3h-1.3zM410.35,62.86h1.3v1.3h-1.3zM412.05,62.39h1.3v1.3h-1.3zM408.65,72.12h1.3v1.3h-1.3zM410.35,72.78h1.3v1.3h-1.3zM412.05,73.23h1.3v1.3h-1.3zM410.35,57.42h1.3v1.3h-1.3zM410.35,80.55h1.3v1.3h-1.3zM410.35,48.27h1.3v1.3h-1.3zM410.35,88.62h1.3v1.3h-1.3zM410.35,106.91h1.3v1.3h-1.3z" fill="#aa0229"/>
<path d="M411.0,63.45L411.0,72.05M407.5,63.45L414.5,63.45M407.5,72.05L414.5,72.05M405.3,67.75L416.7,67.75" stroke="#aa0229" stroke-width="1.15" fill="none"/>
<path d="M426.85,80.48h1.3v1.3h-1.3zM428.55,80.44h1.3v1.3h-1.3zM425.15,80.85h1.3v1.3h-1.3zM430.25,80.22h1.3v1.3h-1.3zM423.45,80.19h1.3v1.3h-1.3zM431.95,79.98h1.3v1.3h-1.3zM421.75,79.89h1.3v1.3h-1.3zM433.65,79.87h1.3v1.3h-1.3zM420.05,81.29h1.3v1.3h-1.3zM420.05,79.80h1.3v1.3h-1.3zM420.05,79.73h1.3v1.3h-1.3zM420.05,81.38h1.3v1.3h-1.3zM420.05,81.56h1.3v1.3h-1.3zM431.95,81.69h1.3v1.3h-1.3zM421.75,81.81h1.3v1.3h-1.3zM420.05,79.16h1.3v1.3h-1.3zM430.25,81.98h1.3v1.3h-1.3zM425.15,79.06h1.3v1.3h-1.3zM426.85,78.03h1.3v1.3h-1.3zM426.85,83.12h1.3v1.3h-1.3zM426.85,84.85h1.3v1.3h-1.3zM426.85,87.54h1.3v1.3h-1.3zM426.85,72.48h1.3v1.3h-1.3zM426.85,65.49h1.3v1.3h-1.3zM426.85,62.80h1.3v1.3h-1.3zM426.85,112.83h1.3v1.3h-1.3z" fill="#27467f"/>
<path d="M427.5,79.59L427.5,82.81M424.0,79.59L431.0,79.59M424.0,82.81L431.0,82.81M421.8,81.20L433.2,81.20" stroke="#27467f" stroke-width="1.15" fill="none"/>
<path d="M444.15,71.33h1.3v1.3h-1.3zM444.15,68.23h1.3v1.3h-1.3zM445.85,72.87h1.3v1.3h-1.3zM445.85,67.61h1.3v1.3h-1.3zM444.15,73.61h1.3v1.3h-1.3zM445.85,75.22h1.3v1.3h-1.3zM444.15,65.51h1.3v1.3h-1.3zM444.15,77.73h1.3v1.3h-1.3zM444.15,62.59h1.3v1.3h-1.3zM444.15,82.14h1.3v1.3h-1.3zM445.85,82.47h1.3v1.3h-1.3zM444.15,57.94h1.3v1.3h-1.3zM442.45,83.32h1.3v1.3h-1.3zM444.15,55.20h1.3v1.3h-1.3zM444.15,48.27h1.3v1.3h-1.3zM445.85,46.66h1.3v1.3h-1.3zM444.15,100.99h1.3v1.3h-1.3z" fill="#aa0229"/>
<path d="M444.8,62.37L444.8,78.51M441.3,62.37L448.3,62.37M441.3,78.51L448.3,78.51M439.1,71.09L450.5,71.09" stroke="#aa0229" stroke-width="1.15" fill="none"/>
<path d="M460.65,79.35h1.3v1.3h-1.3zM462.35,79.71h1.3v1.3h-1.3zM458.95,79.21h1.3v1.3h-1.3zM464.05,79.20h1.3v1.3h-1.3zM457.25,79.83h1.3v1.3h-1.3zM465.75,80.35h1.3v1.3h-1.3zM455.55,80.54h1.3v1.3h-1.3zM467.45,80.90h1.3v1.3h-1.3zM460.65,81.24h1.3v1.3h-1.3zM462.35,81.52h1.3v1.3h-1.3zM460.65,77.35h1.3v1.3h-1.3zM462.35,77.25h1.3v1.3h-1.3zM458.95,76.58h1.3v1.3h-1.3zM458.95,82.54h1.3v1.3h-1.3zM464.05,82.64h1.3v1.3h-1.3zM464.05,75.76h1.3v1.3h-1.3zM460.65,83.31h1.3v1.3h-1.3zM462.35,83.77h1.3v1.3h-1.3zM458.95,84.41h1.3v1.3h-1.3zM464.05,84.50h1.3v1.3h-1.3zM460.65,85.01h1.3v1.3h-1.3zM457.25,85.36h1.3v1.3h-1.3zM460.65,72.48h1.3v1.3h-1.3zM460.65,68.71h1.3v1.3h-1.3zM460.65,91.31h1.3v1.3h-1.3zM460.65,64.41h1.3v1.3h-1.3zM460.65,60.11h1.3v1.3h-1.3zM460.65,57.95h1.3v1.3h-1.3zM460.65,53.65h1.3v1.3h-1.3z" fill="#27467f"/>
<path d="M461.3,77.97L461.3,82.81M457.8,77.97L464.8,77.97M457.8,82.81L464.8,82.81M455.6,80.12L467.0,80.12" stroke="#27467f" stroke-width="1.15" fill="none"/>
<path d="M377,29L394.6,29" stroke="#222" stroke-width="1.2"/>
<text transform="translate(385.80,28.40)" font-size="5.6" text-anchor="middle" font-weight="bold" fill="#111">***</text>
<path d="M412,44.5L427.2,44.5" stroke="#222" stroke-width="1.2"/>
<text transform="translate(419.60,43.90)" font-size="5.6" text-anchor="middle" font-weight="bold" fill="#111">****</text>
<path d="M446.3,44.2L460,44.2" stroke="#222" stroke-width="1.2"/>
<text transform="translate(453.15,43.60)" font-size="5.6" text-anchor="middle" font-weight="bold" fill="#111">***</text>
<text transform="translate(343.10,79.70) rotate(-90) scale(0.8,1)" font-size="8.9" text-anchor="middle" font-weight="normal" fill="#222" stroke="#222" stroke-width="0.05">Forward migration index</text>
<text transform="translate(381.00,144.90) rotate(-45) scale(0.9,1)" font-size="8.2" text-anchor="end" font-weight="normal" fill="#1a1a1a" stroke="#1a1a1a" stroke-width="0.06">WT<tspan font-size="5.4" dy="-2.8">GFP+/-</tspan></text>
<text transform="translate(397.70,144.90) rotate(-45) scale(0.9,1)" font-size="8.2" text-anchor="end" font-weight="normal" fill="#1a1a1a" stroke="#1a1a1a" stroke-width="0.06">R702C<tspan font-size="5.4" dy="-2.8">GFP+/-</tspan></text>
<text transform="translate(414.70,144.90) rotate(-45) scale(0.9,1)" font-size="8.2" text-anchor="end" font-weight="normal" fill="#1a1a1a" stroke="#1a1a1a" stroke-width="0.06">WT</text>
<text transform="translate(431.20,144.90) rotate(-45) scale(0.9,1)" font-size="8.2" text-anchor="end" font-weight="normal" fill="#1a1a1a" stroke="#1a1a1a" stroke-width="0.06">D1424N<tspan font-size="5.4" dy="-2.8"> +/-</tspan></text>
<text transform="translate(448.50,144.90) rotate(-45) scale(0.9,1)" font-size="8.2" text-anchor="end" font-weight="normal" fill="#1a1a1a" stroke="#1a1a1a" stroke-width="0.06">WT</text>
<text transform="translate(465.00,144.90) rotate(-45) scale(0.9,1)" font-size="8.2" text-anchor="end" font-weight="normal" fill="#1a1a1a" stroke="#1a1a1a" stroke-width="0.06">E1841K<tspan font-size="5.4" dy="-2.8"> +/-</tspan></text>
<text transform="translate(338.50,199.00)" font-size="12.2" text-anchor="start" font-weight="bold" fill="#000" stroke="#000" stroke-width="0.35">H</text>
<path d="M365.9,205.0L365.9,315.9M365.09999999999997,315.9L472.5,315.9" stroke="#333" stroke-width="1.8" fill="none"/>
<path d="M362.9,208.40L365.9,208.40" stroke="#222" stroke-width="1"/>
<text transform="translate(359.70,210.30) scale(0.94,1)" font-size="7.3" text-anchor="end" font-weight="normal" fill="#222" stroke="#222" stroke-width="0.05">10</text>
<path d="M362.9,229.90L365.9,229.90" stroke="#222" stroke-width="1"/>
<text transform="translate(359.70,231.80) scale(0.94,1)" font-size="7.3" text-anchor="end" font-weight="normal" fill="#222" stroke="#222" stroke-width="0.05">8</text>
<path d="M362.9,251.40L365.9,251.40" stroke="#222" stroke-width="1"/>
<text transform="translate(359.70,253.30) scale(0.94,1)" font-size="7.3" text-anchor="end" font-weight="normal" fill="#222" stroke="#222" stroke-width="0.05">6</text>
<path d="M362.9,272.90L365.9,272.90" stroke="#222" stroke-width="1"/>
<text transform="translate(359.70,274.80) scale(0.94,1)" font-size="7.3" text-anchor="end" font-weight="normal" fill="#222" stroke="#222" stroke-width="0.05">4</text>
<path d="M362.9,294.40L365.9,294.40" stroke="#222" stroke-width="1"/>
<text transform="translate(359.70,296.30) scale(0.94,1)" font-size="7.3" text-anchor="end" font-weight="normal" fill="#222" stroke="#222" stroke-width="0.05">2</text>
<path d="M362.9,315.90L365.9,315.90" stroke="#222" stroke-width="1"/>
<text transform="translate(359.70,317.80) scale(0.94,1)" font-size="7.3" text-anchor="end" font-weight="normal" fill="#222" stroke="#222" stroke-width="0.05">0</text>
<path d="M377.3,315.9L377.3,319.2" stroke="#222" stroke-width="0.9"/>
<path d="M394.0,315.9L394.0,319.2" stroke="#222" stroke-width="0.9"/>
<path d="M411.0,315.9L411.0,319.2" stroke="#222" stroke-width="0.9"/>
<path d="M427.5,315.9L427.5,319.2" stroke="#222" stroke-width="0.9"/>
<path d="M444.8,315.9L444.8,319.2" stroke="#222" stroke-width="0.9"/>
<path d="M461.3,315.9L461.3,319.2" stroke="#222" stroke-width="0.9"/>
<path d="M376.65,301.73h1.3v1.3h-1.3zM378.35,301.94h1.3v1.3h-1.3zM374.95,301.45h1.3v1.3h-1.3zM380.05,301.18h1.3v1.3h-1.3zM373.25,302.62h1.3v1.3h-1.3zM381.75,302.63h1.3v1.3h-1.3zM371.55,302.79h1.3v1.3h-1.3zM373.25,300.73h1.3v1.3h-1.3zM381.75,300.31h1.3v1.3h-1.3zM371.55,300.29h1.3v1.3h-1.3zM376.65,303.53h1.3v1.3h-1.3zM374.95,303.59h1.3v1.3h-1.3zM378.35,303.83h1.3v1.3h-1.3zM376.65,299.37h1.3v1.3h-1.3zM378.35,299.33h1.3v1.3h-1.3zM374.95,299.31h1.3v1.3h-1.3zM380.05,304.56h1.3v1.3h-1.3zM380.05,298.13h1.3v1.3h-1.3zM373.25,298.07h1.3v1.3h-1.3zM376.65,305.73h1.3v1.3h-1.3zM376.65,297.63h1.3v1.3h-1.3zM378.35,297.63h1.3v1.3h-1.3zM378.35,307.24h1.3v1.3h-1.3zM376.65,307.58h1.3v1.3h-1.3zM374.95,307.61h1.3v1.3h-1.3zM376.65,295.75h1.3v1.3h-1.3zM380.05,307.91h1.3v1.3h-1.3zM373.25,308.06h1.3v1.3h-1.3zM376.65,290.52h1.3v1.3h-1.3zM376.65,286.23h1.3v1.3h-1.3zM376.65,245.91h1.3v1.3h-1.3zM376.65,230.32h1.3v1.3h-1.3z" fill="#aa0229"/>
<path d="M377.3,295.47L377.3,307.84M373.8,295.47L380.8,295.47M373.8,307.84L380.8,307.84M371.6,302.46L383.0,302.46" stroke="#aa0229" stroke-width="1.15" fill="none"/>
<path d="M393.35,311.03h1.3v1.3h-1.3zM395.05,310.74h1.3v1.3h-1.3zM391.65,310.61h1.3v1.3h-1.3zM396.75,311.29h1.3v1.3h-1.3zM389.95,311.47h1.3v1.3h-1.3zM398.45,311.58h1.3v1.3h-1.3zM388.25,310.20h1.3v1.3h-1.3zM400.15,311.84h1.3v1.3h-1.3zM386.55,311.85h1.3v1.3h-1.3zM388.25,312.28h1.3v1.3h-1.3zM391.65,312.34h1.3v1.3h-1.3zM386.55,312.36h1.3v1.3h-1.3zM395.05,312.50h1.3v1.3h-1.3zM386.55,312.55h1.3v1.3h-1.3zM386.55,312.65h1.3v1.3h-1.3zM386.55,312.66h1.3v1.3h-1.3zM393.35,309.10h1.3v1.3h-1.3zM395.05,308.85h1.3v1.3h-1.3zM391.65,308.83h1.3v1.3h-1.3zM396.75,308.80h1.3v1.3h-1.3zM389.95,308.75h1.3v1.3h-1.3zM398.45,308.73h1.3v1.3h-1.3zM388.25,308.38h1.3v1.3h-1.3zM400.15,308.28h1.3v1.3h-1.3zM386.55,308.20h1.3v1.3h-1.3zM386.55,308.14h1.3v1.3h-1.3zM386.55,307.83h1.3v1.3h-1.3zM393.35,307.28h1.3v1.3h-1.3zM393.35,315.02h1.3v1.3h-1.3zM395.05,306.57h1.3v1.3h-1.3zM393.35,302.35h1.3v1.3h-1.3zM393.35,298.05h1.3v1.3h-1.3zM393.35,291.60h1.3v1.3h-1.3zM393.35,286.23h1.3v1.3h-1.3z" fill="#27467f"/>
<path d="M394.0,307.30L394.0,314.82M390.5,307.30L397.5,307.30M390.5,314.82L397.5,314.82M388.3,311.60L399.7,311.60" stroke="#27467f" stroke-width="1.15" fill="none"/>
<path d="M410.35,301.50h1.3v1.3h-1.3zM412.05,300.96h1.3v1.3h-1.3zM408.65,301.63h1.3v1.3h-1.3zM413.75,301.64h1.3v1.3h-1.3zM406.95,301.86h1.3v1.3h-1.3zM415.45,300.68h1.3v1.3h-1.3zM406.95,300.05h1.3v1.3h-1.3zM415.45,302.54h1.3v1.3h-1.3zM410.35,299.43h1.3v1.3h-1.3zM410.35,303.53h1.3v1.3h-1.3zM412.05,303.67h1.3v1.3h-1.3zM412.05,298.82h1.3v1.3h-1.3zM408.65,298.42h1.3v1.3h-1.3zM413.75,298.41h1.3v1.3h-1.3zM408.65,304.20h1.3v1.3h-1.3zM406.95,298.19h1.3v1.3h-1.3zM415.45,297.99h1.3v1.3h-1.3zM413.75,304.64h1.3v1.3h-1.3zM405.25,297.83h1.3v1.3h-1.3zM410.35,305.47h1.3v1.3h-1.3zM410.35,296.88h1.3v1.3h-1.3zM412.05,306.29h1.3v1.3h-1.3zM412.05,296.01h1.3v1.3h-1.3zM410.35,307.58h1.3v1.3h-1.3zM410.35,294.75h1.3v1.3h-1.3zM408.65,294.34h1.3v1.3h-1.3zM412.05,294.02h1.3v1.3h-1.3zM410.35,292.91h1.3v1.3h-1.3zM410.35,287.30h1.3v1.3h-1.3zM410.35,280.31h1.3v1.3h-1.3zM410.35,269.02h1.3v1.3h-1.3zM410.35,266.88h1.3v1.3h-1.3z" fill="#aa0229"/>
<path d="M411.0,293.86L411.0,309.45M407.5,293.86L414.5,293.86M407.5,309.45L414.5,309.45M405.3,301.92L416.7,301.92" stroke="#aa0229" stroke-width="1.15" fill="none"/>
<path d="M426.85,292.37h1.3v1.3h-1.3zM428.55,292.49h1.3v1.3h-1.3zM425.15,292.70h1.3v1.3h-1.3zM426.85,289.06h1.3v1.3h-1.3zM426.85,294.50h1.3v1.3h-1.3zM428.55,287.98h1.3v1.3h-1.3zM428.55,294.75h1.3v1.3h-1.3zM425.15,287.66h1.3v1.3h-1.3zM425.15,295.12h1.3v1.3h-1.3zM430.25,295.33h1.3v1.3h-1.3zM426.85,287.19h1.3v1.3h-1.3zM423.45,295.71h1.3v1.3h-1.3zM430.25,286.84h1.3v1.3h-1.3zM423.45,286.72h1.3v1.3h-1.3zM428.55,286.03h1.3v1.3h-1.3zM425.15,285.87h1.3v1.3h-1.3zM431.95,285.83h1.3v1.3h-1.3zM426.85,284.31h1.3v1.3h-1.3zM428.55,284.02h1.3v1.3h-1.3zM425.15,283.71h1.3v1.3h-1.3zM426.85,282.42h1.3v1.3h-1.3zM428.55,282.19h1.3v1.3h-1.3zM425.15,280.80h1.3v1.3h-1.3zM426.85,301.92h1.3v1.3h-1.3zM428.55,301.99h1.3v1.3h-1.3zM425.15,302.14h1.3v1.3h-1.3zM430.25,302.57h1.3v1.3h-1.3zM426.85,306.19h1.3v1.3h-1.3zM426.85,311.27h1.3v1.3h-1.3zM426.85,267.95h1.3v1.3h-1.3zM426.85,265.80h1.3v1.3h-1.3zM428.55,264.40h1.3v1.3h-1.3zM425.15,264.40h1.3v1.3h-1.3z" fill="#27467f"/>
<path d="M427.5,285.05L427.5,300.42M424.0,285.05L431.0,285.05M424.0,300.42L431.0,300.42M421.8,291.93L433.2,291.93" stroke="#27467f" stroke-width="1.15" fill="none"/>
<path d="M444.15,298.23h1.3v1.3h-1.3zM445.85,298.33h1.3v1.3h-1.3zM442.45,298.37h1.3v1.3h-1.3zM447.55,298.14h1.3v1.3h-1.3zM440.75,297.73h1.3v1.3h-1.3zM449.25,297.36h1.3v1.3h-1.3zM449.25,299.18h1.3v1.3h-1.3zM439.05,297.25h1.3v1.3h-1.3zM450.95,297.06h1.3v1.3h-1.3zM437.35,297.00h1.3v1.3h-1.3zM437.35,296.92h1.3v1.3h-1.3zM444.15,299.96h1.3v1.3h-1.3zM445.85,300.06h1.3v1.3h-1.3zM442.45,300.98h1.3v1.3h-1.3zM447.55,301.19h1.3v1.3h-1.3zM440.75,301.39h1.3v1.3h-1.3zM444.15,301.70h1.3v1.3h-1.3zM445.85,302.26h1.3v1.3h-1.3zM444.15,294.19h1.3v1.3h-1.3zM449.25,302.39h1.3v1.3h-1.3zM442.45,302.71h1.3v1.3h-1.3zM447.55,303.30h1.3v1.3h-1.3zM445.85,293.18h1.3v1.3h-1.3zM444.15,303.63h1.3v1.3h-1.3zM444.15,292.32h1.3v1.3h-1.3zM442.45,292.16h1.3v1.3h-1.3zM447.55,292.14h1.3v1.3h-1.3zM445.85,291.18h1.3v1.3h-1.3zM444.15,306.58h1.3v1.3h-1.3zM444.15,309.29h1.3v1.3h-1.3zM444.15,311.27h1.3v1.3h-1.3zM444.15,275.80h1.3v1.3h-1.3z" fill="#aa0229"/>
<path d="M444.8,293.86L444.8,304.07M441.3,293.86L448.3,293.86M441.3,304.07L448.3,304.07M439.1,298.91L450.5,298.91" stroke="#aa0229" stroke-width="1.15" fill="none"/>
<path d="M460.65,298.86h1.3v1.3h-1.3zM462.35,299.30h1.3v1.3h-1.3zM458.95,299.35h1.3v1.3h-1.3zM464.05,298.46h1.3v1.3h-1.3zM457.25,299.51h1.3v1.3h-1.3zM465.75,299.57h1.3v1.3h-1.3zM455.55,298.21h1.3v1.3h-1.3zM464.05,300.49h1.3v1.3h-1.3zM460.65,296.82h1.3v1.3h-1.3zM462.35,296.58h1.3v1.3h-1.3zM458.95,296.50h1.3v1.3h-1.3zM464.05,296.17h1.3v1.3h-1.3zM460.65,301.96h1.3v1.3h-1.3zM462.35,302.02h1.3v1.3h-1.3zM458.95,302.05h1.3v1.3h-1.3zM457.25,295.31h1.3v1.3h-1.3zM464.05,302.69h1.3v1.3h-1.3zM460.65,295.03h1.3v1.3h-1.3zM465.75,295.01h1.3v1.3h-1.3zM455.55,294.98h1.3v1.3h-1.3zM467.45,294.89h1.3v1.3h-1.3zM457.25,303.29h1.3v1.3h-1.3zM460.65,303.69h1.3v1.3h-1.3zM462.35,293.86h1.3v1.3h-1.3zM462.35,305.09h1.3v1.3h-1.3zM460.65,292.27h1.3v1.3h-1.3zM460.65,305.84h1.3v1.3h-1.3zM462.35,290.62h1.3v1.3h-1.3zM460.65,308.80h1.3v1.3h-1.3zM460.65,285.15h1.3v1.3h-1.3zM460.65,280.31h1.3v1.3h-1.3zM462.35,280.31h1.3v1.3h-1.3zM458.95,280.31h1.3v1.3h-1.3z" fill="#27467f"/>
<path d="M461.3,294.40L461.3,304.07M457.8,294.40L464.8,294.40M457.8,304.07L464.8,304.07M455.6,299.56L467.0,299.56" stroke="#27467f" stroke-width="1.15" fill="none"/>
<path d="M376.2,225.5L393.1,225.5" stroke="#222" stroke-width="1.2"/>
<text transform="translate(384.65,224.90)" font-size="5.6" text-anchor="middle" font-weight="bold" fill="#111">****</text>
<path d="M410.7,261.3L428,261.3" stroke="#222" stroke-width="1.2"/>
<text transform="translate(419.35,260.70)" font-size="5.6" text-anchor="middle" font-weight="bold" fill="#111">**</text>
<path d="M444.6,273L461.5,273" stroke="#222" stroke-width="1.2"/>
<text transform="translate(453.05,271.20) scale(0.92,1)" font-size="6.6" text-anchor="middle" font-weight="normal" fill="#222">NS</text>
<text transform="translate(347.20,260.75) rotate(-90) scale(0.8,1)" font-size="9.6" text-anchor="middle" font-weight="normal" fill="#222" stroke="#222" stroke-width="0.05">Velocity(μm/minute)</text>
<text transform="translate(381.00,326.20) rotate(-45) scale(0.9,1)" font-size="8.2" text-anchor="end" font-weight="normal" fill="#1a1a1a" stroke="#1a1a1a" stroke-width="0.06">WT<tspan font-size="5.4" dy="-2.8">GFP+/-</tspan></text>
<text transform="translate(397.70,326.20) rotate(-45) scale(0.9,1)" font-size="8.2" text-anchor="end" font-weight="normal" fill="#1a1a1a" stroke="#1a1a1a" stroke-width="0.06">R702C<tspan font-size="5.4" dy="-2.8">GFP+/-</tspan></text>
<text transform="translate(414.70,326.20) rotate(-45) scale(0.9,1)" font-size="8.2" text-anchor="end" font-weight="normal" fill="#1a1a1a" stroke="#1a1a1a" stroke-width="0.06">WT</text>
<text transform="translate(431.20,326.20) rotate(-45) scale(0.9,1)" font-size="8.2" text-anchor="end" font-weight="normal" fill="#1a1a1a" stroke="#1a1a1a" stroke-width="0.06">D1424N<tspan font-size="5.4" dy="-2.8"> +/-</tspan></text>
<text transform="translate(448.50,326.20) rotate(-45) scale(0.9,1)" font-size="8.2" text-anchor="end" font-weight="normal" fill="#1a1a1a" stroke="#1a1a1a" stroke-width="0.06">WT</text>
<text transform="translate(465.00,326.20) rotate(-45) scale(0.9,1)" font-size="8.2" text-anchor="end" font-weight="normal" fill="#1a1a1a" stroke="#1a1a1a" stroke-width="0.06">E1841K<tspan font-size="5.4" dy="-2.8"> +/-</tspan></text>
<path d="M54.23,613.60C55.19,613.60 58.08,613.82 60.00,613.60C61.92,613.38 63.85,613.36 65.77,612.30C67.70,611.24 69.86,609.54 71.54,607.25C73.23,604.97 74.79,601.72 75.87,598.59C76.96,595.47 77.44,591.62 78.04,588.49C78.64,585.37 79.00,580.80 79.48,579.83C79.96,578.87 80.44,582.00 80.92,582.72C81.40,583.44 81.89,585.13 82.37,584.16C82.85,583.20 83.21,580.07 83.81,576.95C84.41,573.82 85.25,569.13 85.97,565.40C86.70,561.68 87.54,555.78 88.14,554.58C88.74,553.38 89.10,557.23 89.58,558.19C90.06,559.15 90.54,561.08 91.02,560.35C91.51,559.63 91.99,556.63 92.47,553.86C92.95,551.09 93.43,546.16 93.91,543.76C94.39,541.35 94.87,539.67 95.35,539.43C95.83,539.19 96.32,540.51 96.80,542.32C97.28,544.12 97.76,549.77 98.24,550.25C98.72,550.73 99.20,545.80 99.68,545.20C100.16,544.60 100.76,545.68 101.13,546.65C101.49,547.61 101.49,549.77 101.85,550.97C102.21,552.18 102.69,552.66 103.29,553.86C103.89,555.06 104.61,556.02 105.45,558.19C106.30,560.35 107.50,563.96 108.34,566.85C109.18,569.73 109.78,573.58 110.51,575.51C111.23,577.43 111.95,576.23 112.67,578.39C113.39,580.56 113.99,585.61 114.83,588.49C115.68,591.38 116.76,593.30 117.72,595.71C118.68,598.11 119.64,600.88 120.61,602.92C121.57,604.97 122.29,606.53 123.49,607.97C124.69,609.42 126.38,610.64 127.82,611.58C129.26,612.52 131.43,613.26 132.15,613.60L132.15,614.2L54.23,614.2Z" fill="#e2e6ee"/>
<path d="M65.77,613.60C66.49,612.78 68.78,611.20 70.10,608.69C71.42,606.19 72.75,600.64 73.71,598.59C74.67,596.55 75.15,597.63 75.87,596.43C76.59,595.23 77.44,592.58 78.04,591.38C78.64,590.18 78.88,589.69 79.48,589.21C80.08,588.73 81.04,589.57 81.65,588.49C82.25,587.41 82.49,585.61 83.09,582.72C83.69,579.83 84.53,575.26 85.25,571.18C85.97,567.09 86.82,561.32 87.42,558.19C88.02,555.06 88.26,553.74 88.86,552.42C89.46,551.09 90.30,551.46 91.02,550.25C91.75,549.05 92.59,546.52 93.19,545.20C93.79,543.88 94.15,542.44 94.63,542.32C95.11,542.20 95.64,545.44 96.08,544.48C96.51,543.52 96.87,538.59 97.23,536.54C97.59,534.50 97.90,532.46 98.24,532.22C98.58,531.97 98.89,532.94 99.25,535.10C99.61,537.27 99.97,542.68 100.40,545.20C100.84,547.73 101.37,549.29 101.85,550.25C102.33,551.21 102.81,549.65 103.29,550.97C103.77,552.30 104.37,555.54 104.73,558.19C105.09,560.83 105.09,563.24 105.45,566.85C105.82,570.45 106.18,576.71 106.90,579.83C107.62,582.96 108.94,583.44 109.78,585.61C110.63,587.77 111.23,589.94 111.95,592.82C112.67,595.71 113.39,600.28 114.11,602.92C114.83,605.57 115.44,607.61 116.28,608.69C117.12,609.78 118.20,609.30 119.16,609.42C120.13,609.54 120.97,609.05 122.05,609.42C123.13,609.78 124.45,610.88 125.66,611.58C126.86,612.28 128.66,613.26 129.26,613.60L129.26,614.2L65.77,614.2Z" fill="#d2a5b3"/>
<path d="M54.23,613.60C55.19,613.60 58.08,613.82 60.00,613.60C61.92,613.38 63.85,613.36 65.77,612.30C67.70,611.24 69.86,609.54 71.54,607.25C73.23,604.97 74.79,601.72 75.87,598.59C76.96,595.47 77.44,591.62 78.04,588.49C78.64,585.37 79.00,580.80 79.48,579.83C79.96,578.87 80.44,582.00 80.92,582.72C81.40,583.44 81.89,585.13 82.37,584.16C82.85,583.20 83.21,580.07 83.81,576.95C84.41,573.82 85.25,569.13 85.97,565.40C86.70,561.68 87.54,555.78 88.14,554.58C88.74,553.38 89.10,557.23 89.58,558.19C90.06,559.15 90.54,561.08 91.02,560.35C91.51,559.63 91.99,556.63 92.47,553.86C92.95,551.09 93.43,546.16 93.91,543.76C94.39,541.35 94.87,539.67 95.35,539.43C95.83,539.19 96.32,540.51 96.80,542.32C97.28,544.12 97.76,549.77 98.24,550.25C98.72,550.73 99.20,545.80 99.68,545.20C100.16,544.60 100.76,545.68 101.13,546.65C101.49,547.61 101.49,549.77 101.85,550.97C102.21,552.18 102.69,552.66 103.29,553.86C103.89,555.06 104.61,556.02 105.45,558.19C106.30,560.35 107.50,563.96 108.34,566.85C109.18,569.73 109.78,573.58 110.51,575.51C111.23,577.43 111.95,576.23 112.67,578.39C113.39,580.56 113.99,585.61 114.83,588.49C115.68,591.38 116.76,593.30 117.72,595.71C118.68,598.11 119.64,600.88 120.61,602.92C121.57,604.97 122.29,606.53 123.49,607.97C124.69,609.42 126.38,610.64 127.82,611.58C129.26,612.52 131.43,613.26 132.15,613.60" fill="none" stroke="#27467f" stroke-width="1.3" stroke-linejoin="round"/>
<path d="M65.77,613.60C66.49,612.78 68.78,611.20 70.10,608.69C71.42,606.19 72.75,600.64 73.71,598.59C74.67,596.55 75.15,597.63 75.87,596.43C76.59,595.23 77.44,592.58 78.04,591.38C78.64,590.18 78.88,589.69 79.48,589.21C80.08,588.73 81.04,589.57 81.65,588.49C82.25,587.41 82.49,585.61 83.09,582.72C83.69,579.83 84.53,575.26 85.25,571.18C85.97,567.09 86.82,561.32 87.42,558.19C88.02,555.06 88.26,553.74 88.86,552.42C89.46,551.09 90.30,551.46 91.02,550.25C91.75,549.05 92.59,546.52 93.19,545.20C93.79,543.88 94.15,542.44 94.63,542.32C95.11,542.20 95.64,545.44 96.08,544.48C96.51,543.52 96.87,538.59 97.23,536.54C97.59,534.50 97.90,532.46 98.24,532.22C98.58,531.97 98.89,532.94 99.25,535.10C99.61,537.27 99.97,542.68 100.40,545.20C100.84,547.73 101.37,549.29 101.85,550.25C102.33,551.21 102.81,549.65 103.29,550.97C103.77,552.30 104.37,555.54 104.73,558.19C105.09,560.83 105.09,563.24 105.45,566.85C105.82,570.45 106.18,576.71 106.90,579.83C107.62,582.96 108.94,583.44 109.78,585.61C110.63,587.77 111.23,589.94 111.95,592.82C112.67,595.71 113.39,600.28 114.11,602.92C114.83,605.57 115.44,607.61 116.28,608.69C117.12,609.78 118.20,609.30 119.16,609.42C120.13,609.54 120.97,609.05 122.05,609.42C123.13,609.78 124.45,610.88 125.66,611.58C126.86,612.28 128.66,613.26 129.26,613.60" fill="none" stroke="#aa0229" stroke-width="1.3" stroke-linejoin="round"/>
<path d="M42.2,497.2L42.2,614.2L161.7,614.2" stroke="#111" stroke-width="1.3" fill="none"/>
<text transform="translate(36.00,617.40) scale(0.9,1)" font-size="9.0" text-anchor="end" font-weight="normal" fill="#1a1a1a" stroke="#1a1a1a" stroke-width="0.06">0</text>
<text transform="translate(36.00,595.70) scale(0.9,1)" font-size="9.0" text-anchor="end" font-weight="normal" fill="#1a1a1a" stroke="#1a1a1a" stroke-width="0.06">20</text>
<text transform="translate(36.00,574.00) scale(0.9,1)" font-size="9.0" text-anchor="end" font-weight="normal" fill="#1a1a1a" stroke="#1a1a1a" stroke-width="0.06">40</text>
<text transform="translate(36.00,552.30) scale(0.9,1)" font-size="9.0" text-anchor="end" font-weight="normal" fill="#1a1a1a" stroke="#1a1a1a" stroke-width="0.06">60</text>
<text transform="translate(36.00,530.60) scale(0.9,1)" font-size="9.0" text-anchor="end" font-weight="normal" fill="#1a1a1a" stroke="#1a1a1a" stroke-width="0.06">80</text>
<text transform="translate(36.00,508.90) scale(0.9,1)" font-size="9.0" text-anchor="end" font-weight="normal" fill="#1a1a1a" stroke="#1a1a1a" stroke-width="0.06">100</text>
<text transform="translate(42.60,627.80) scale(0.92,1)" font-size="9.0" text-anchor="middle" font-weight="normal" fill="#111" stroke="#111" stroke-width="0.14">10<tspan font-size="6.6" dy="-3.4">0</tspan></text>
<text transform="translate(66.00,627.80) scale(0.92,1)" font-size="9.0" text-anchor="middle" font-weight="normal" fill="#111" stroke="#111" stroke-width="0.14">10<tspan font-size="6.6" dy="-3.4">1</tspan></text>
<text transform="translate(89.40,627.80) scale(0.92,1)" font-size="9.0" text-anchor="middle" font-weight="normal" fill="#111" stroke="#111" stroke-width="0.14">10<tspan font-size="6.6" dy="-3.4">2</tspan></text>
<text transform="translate(112.80,627.80) scale(0.92,1)" font-size="9.0" text-anchor="middle" font-weight="normal" fill="#111" stroke="#111" stroke-width="0.14">10<tspan font-size="6.6" dy="-3.4">3</tspan></text>
<text transform="translate(136.20,627.80) scale(0.92,1)" font-size="9.0" text-anchor="middle" font-weight="normal" fill="#111" stroke="#111" stroke-width="0.14">10<tspan font-size="6.6" dy="-3.4">4</tspan></text>
<text transform="translate(159.60,627.80) scale(0.92,1)" font-size="9.0" text-anchor="middle" font-weight="normal" fill="#111" stroke="#111" stroke-width="0.14">10<tspan font-size="6.6" dy="-3.4">5</tspan></text>
<path d="M39.400000000000006,614.20L42.2,614.20M39.400000000000006,592.50L42.2,592.50M39.400000000000006,570.80L42.2,570.80M39.400000000000006,549.10L42.2,549.10M39.400000000000006,527.40L42.2,527.40M39.400000000000006,505.70L42.2,505.70M40.7,608.78L42.2,608.78M40.7,603.35L42.2,603.35M40.7,597.93L42.2,597.93M40.7,587.08L42.2,587.08M40.7,581.65L42.2,581.65M40.7,576.23L42.2,576.23M40.7,565.38L42.2,565.38M40.7,559.95L42.2,559.95M40.7,554.52L42.2,554.52M40.7,543.67L42.2,543.67M40.7,538.25L42.2,538.25M40.7,532.83L42.2,532.83M40.7,521.98L42.2,521.98M40.7,516.55L42.2,516.55M40.7,511.12L42.2,511.12M40.7,500.27L42.2,500.27M42.20,614.2L42.20,617.0M49.24,614.2L49.24,615.7M53.36,614.2L53.36,615.7M56.29,614.2L56.29,615.7M58.56,614.2L58.56,615.7M60.41,614.2L60.41,615.7M61.98,614.2L61.98,615.7M63.33,614.2L63.33,615.7M64.53,614.2L64.53,615.7M65.60,614.2L65.60,617.0M72.64,614.2L72.64,615.7M76.76,614.2L76.76,615.7M79.69,614.2L79.69,615.7M81.96,614.2L81.96,615.7M83.81,614.2L83.81,615.7M85.38,614.2L85.38,615.7M86.73,614.2L86.73,615.7M87.93,614.2L87.93,615.7M89.00,614.2L89.00,617.0M96.04,614.2L96.04,615.7M100.16,614.2L100.16,615.7M103.09,614.2L103.09,615.7M105.36,614.2L105.36,615.7M107.21,614.2L107.21,615.7M108.78,614.2L108.78,615.7M110.13,614.2L110.13,615.7M111.33,614.2L111.33,615.7M112.40,614.2L112.40,617.0M119.44,614.2L119.44,615.7M123.56,614.2L123.56,615.7M126.49,614.2L126.49,615.7M128.76,614.2L128.76,615.7M130.61,614.2L130.61,615.7M132.18,614.2L132.18,615.7M133.53,614.2L133.53,615.7M134.73,614.2L134.73,615.7M135.80,614.2L135.80,617.0M142.84,614.2L142.84,615.7M146.96,614.2L146.96,615.7M149.89,614.2L149.89,615.7M152.16,614.2L152.16,615.7M154.01,614.2L154.01,615.7M155.58,614.2L155.58,615.7M156.93,614.2L156.93,615.7M158.13,614.2L158.13,615.7M159.20,614.2L159.20,617.0" stroke="#111" stroke-width="0.8" fill="none"/>
<text transform="translate(101.00,641.80) scale(0.8,1)" font-size="9.4" text-anchor="middle" font-weight="normal" fill="#1a1a1a" stroke="#1a1a1a" stroke-width="0.06">CXCR4 (CD184)</text>
<text transform="translate(16.20,556.50) rotate(-90) scale(0.92,1)" font-size="9.0" text-anchor="middle" font-weight="normal" fill="#111" stroke="#111" stroke-width="0.14">% of max</text>
<text transform="translate(7.50,490.50)" font-size="12.2" text-anchor="start" font-weight="bold" fill="#000" stroke="#000" stroke-width="0.35">I</text>
<rect x="49.2" y="504.0" width="13.1" height="7.7" fill="#aa0229"/>
<rect x="49.2" y="517.3" width="13.1" height="7.7" fill="#27467f"/>
<text transform="translate(65.30,510.90) scale(0.88,1)" font-size="6.4" text-anchor="start" font-weight="normal" fill="#333" stroke="#333" stroke-width="0.04">WT<tspan font-size="5.0" dy="-2.6">GFP+/-</tspan></text>
<text transform="translate(65.30,524.40) scale(0.88,1)" font-size="6.4" text-anchor="start" font-weight="normal" fill="#333" stroke="#333" stroke-width="0.04">R702C<tspan font-size="5.0" dy="-2.6">GFP+/-</tspan></text>
<path d="M240.05,613.60C240.65,613.02 242.58,611.68 243.66,610.14C244.74,608.60 245.58,606.17 246.54,604.37C247.51,602.56 248.59,599.80 249.43,599.31C250.27,598.83 250.87,601.36 251.59,601.48C252.32,601.60 252.92,601.24 253.76,600.04C254.60,598.83 255.80,596.67 256.65,594.26C257.49,591.86 258.21,589.45 258.81,585.61C259.41,581.76 259.77,576.47 260.25,571.18C260.73,565.89 261.21,555.54 261.70,553.86C262.18,552.18 262.66,560.83 263.14,561.08C263.62,561.32 264.10,558.67 264.58,555.30C265.06,551.94 265.54,544.72 266.02,540.87C266.51,537.03 266.87,532.58 267.47,532.22C268.07,531.85 269.03,536.30 269.63,538.71C270.23,541.11 270.59,546.77 271.08,546.65C271.56,546.52 272.04,538.11 272.52,537.99C273.00,537.87 273.48,543.40 273.96,545.92C274.44,548.45 274.80,552.06 275.40,553.14C276.01,554.22 276.85,553.14 277.57,552.42C278.29,551.70 279.13,548.33 279.73,548.81C280.33,549.29 280.70,552.90 281.18,555.30C281.66,557.71 282.02,561.92 282.62,563.24C283.22,564.56 284.06,561.92 284.78,563.24C285.51,564.56 286.11,568.17 286.95,571.18C287.79,574.18 288.99,578.39 289.83,581.28C290.68,584.16 291.40,585.85 292.00,588.49C292.60,591.14 292.84,594.50 293.44,597.15C294.04,599.80 294.76,602.44 295.61,604.37C296.45,606.29 297.29,607.49 298.49,608.69C299.69,609.90 301.38,610.76 302.82,611.58C304.26,612.40 306.43,613.26 307.15,613.60L307.15,614.2L240.05,614.2Z" fill="#e2e6ee"/>
<path d="M240.77,613.60C241.49,612.78 243.78,610.47 245.10,608.69C246.42,606.91 247.63,604.85 248.71,602.92C249.79,601.00 250.75,599.56 251.59,597.15C252.44,594.75 253.04,590.78 253.76,588.49C254.48,586.21 255.08,585.00 255.92,583.44C256.77,581.88 257.97,580.92 258.81,579.11C259.65,577.31 260.25,575.87 260.97,572.62C261.70,569.37 262.42,563.48 263.14,559.63C263.86,555.78 264.58,552.42 265.30,549.53C266.02,546.65 266.87,544.12 267.47,542.32C268.07,540.51 268.43,538.47 268.91,538.71C269.39,538.95 269.75,541.47 270.35,543.76C270.95,546.04 271.92,550.37 272.52,552.42C273.12,554.46 273.24,555.78 273.96,556.02C274.68,556.27 276.01,553.74 276.85,553.86C277.69,553.98 278.29,555.78 279.01,556.75C279.73,557.71 280.45,558.07 281.18,559.63C281.90,561.20 282.62,565.16 283.34,566.13C284.06,567.09 284.66,563.84 285.51,565.40C286.35,566.97 287.43,572.14 288.39,575.51C289.35,578.87 290.44,582.96 291.28,585.61C292.12,588.25 292.72,590.54 293.44,591.38C294.16,592.22 294.64,590.18 295.61,590.66C296.57,591.14 298.25,592.94 299.21,594.26C300.18,595.59 300.78,596.67 301.38,598.59C301.98,600.52 302.10,603.88 302.82,605.81C303.54,607.73 304.62,608.84 305.71,610.14C306.79,611.44 308.71,613.02 309.31,613.60L309.31,614.2L240.77,614.2Z" fill="#d2a5b3"/>
<path d="M240.05,613.60C240.65,613.02 242.58,611.68 243.66,610.14C244.74,608.60 245.58,606.17 246.54,604.37C247.51,602.56 248.59,599.80 249.43,599.31C250.27,598.83 250.87,601.36 251.59,601.48C252.32,601.60 252.92,601.24 253.76,600.04C254.60,598.83 255.80,596.67 256.65,594.26C257.49,591.86 258.21,589.45 258.81,585.61C259.41,581.76 259.77,576.47 260.25,571.18C260.73,565.89 261.21,555.54 261.70,553.86C262.18,552.18 262.66,560.83 263.14,561.08C263.62,561.32 264.10,558.67 264.58,555.30C265.06,551.94 265.54,544.72 266.02,540.87C266.51,537.03 266.87,532.58 267.47,532.22C268.07,531.85 269.03,536.30 269.63,538.71C270.23,541.11 270.59,546.77 271.08,546.65C271.56,546.52 272.04,538.11 272.52,537.99C273.00,537.87 273.48,543.40 273.96,545.92C274.44,548.45 274.80,552.06 275.40,553.14C276.01,554.22 276.85,553.14 277.57,552.42C278.29,551.70 279.13,548.33 279.73,548.81C280.33,549.29 280.70,552.90 281.18,555.30C281.66,557.71 282.02,561.92 282.62,563.24C283.22,564.56 284.06,561.92 284.78,563.24C285.51,564.56 286.11,568.17 286.95,571.18C287.79,574.18 288.99,578.39 289.83,581.28C290.68,584.16 291.40,585.85 292.00,588.49C292.60,591.14 292.84,594.50 293.44,597.15C294.04,599.80 294.76,602.44 295.61,604.37C296.45,606.29 297.29,607.49 298.49,608.69C299.69,609.90 301.38,610.76 302.82,611.58C304.26,612.40 306.43,613.26 307.15,613.60" fill="none" stroke="#27467f" stroke-width="1.3" stroke-linejoin="round"/>
<path d="M240.77,613.60C241.49,612.78 243.78,610.47 245.10,608.69C246.42,606.91 247.63,604.85 248.71,602.92C249.79,601.00 250.75,599.56 251.59,597.15C252.44,594.75 253.04,590.78 253.76,588.49C254.48,586.21 255.08,585.00 255.92,583.44C256.77,581.88 257.97,580.92 258.81,579.11C259.65,577.31 260.25,575.87 260.97,572.62C261.70,569.37 262.42,563.48 263.14,559.63C263.86,555.78 264.58,552.42 265.30,549.53C266.02,546.65 266.87,544.12 267.47,542.32C268.07,540.51 268.43,538.47 268.91,538.71C269.39,538.95 269.75,541.47 270.35,543.76C270.95,546.04 271.92,550.37 272.52,552.42C273.12,554.46 273.24,555.78 273.96,556.02C274.68,556.27 276.01,553.74 276.85,553.86C277.69,553.98 278.29,555.78 279.01,556.75C279.73,557.71 280.45,558.07 281.18,559.63C281.90,561.20 282.62,565.16 283.34,566.13C284.06,567.09 284.66,563.84 285.51,565.40C286.35,566.97 287.43,572.14 288.39,575.51C289.35,578.87 290.44,582.96 291.28,585.61C292.12,588.25 292.72,590.54 293.44,591.38C294.16,592.22 294.64,590.18 295.61,590.66C296.57,591.14 298.25,592.94 299.21,594.26C300.18,595.59 300.78,596.67 301.38,598.59C301.98,600.52 302.10,603.88 302.82,605.81C303.54,607.73 304.62,608.84 305.71,610.14C306.79,611.44 308.71,613.02 309.31,613.60" fill="none" stroke="#aa0229" stroke-width="1.3" stroke-linejoin="round"/>
<path d="M216.5,497.2L216.5,614.2L336.0,614.2" stroke="#111" stroke-width="1.3" fill="none"/>
<text transform="translate(210.30,617.40) scale(0.9,1)" font-size="9.0" text-anchor="end" font-weight="normal" fill="#1a1a1a" stroke="#1a1a1a" stroke-width="0.06">0</text>
<text transform="translate(210.30,595.70) scale(0.9,1)" font-size="9.0" text-anchor="end" font-weight="normal" fill="#1a1a1a" stroke="#1a1a1a" stroke-width="0.06">20</text>
<text transform="translate(210.30,574.00) scale(0.9,1)" font-size="9.0" text-anchor="end" font-weight="normal" fill="#1a1a1a" stroke="#1a1a1a" stroke-width="0.06">40</text>
<text transform="translate(210.30,552.30) scale(0.9,1)" font-size="9.0" text-anchor="end" font-weight="normal" fill="#1a1a1a" stroke="#1a1a1a" stroke-width="0.06">60</text>
<text transform="translate(210.30,530.60) scale(0.9,1)" font-size="9.0" text-anchor="end" font-weight="normal" fill="#1a1a1a" stroke="#1a1a1a" stroke-width="0.06">80</text>
<text transform="translate(210.30,508.90) scale(0.9,1)" font-size="9.0" text-anchor="end" font-weight="normal" fill="#1a1a1a" stroke="#1a1a1a" stroke-width="0.06">100</text>
<text transform="translate(216.90,627.80) scale(0.92,1)" font-size="9.0" text-anchor="middle" font-weight="normal" fill="#111" stroke="#111" stroke-width="0.14">10<tspan font-size="6.6" dy="-3.4">0</tspan></text>
<text transform="translate(240.30,627.80) scale(0.92,1)" font-size="9.0" text-anchor="middle" font-weight="normal" fill="#111" stroke="#111" stroke-width="0.14">10<tspan font-size="6.6" dy="-3.4">1</tspan></text>
<text transform="translate(263.70,627.80) scale(0.92,1)" font-size="9.0" text-anchor="middle" font-weight="normal" fill="#111" stroke="#111" stroke-width="0.14">10<tspan font-size="6.6" dy="-3.4">2</tspan></text>
<text transform="translate(287.10,627.80) scale(0.92,1)" font-size="9.0" text-anchor="middle" font-weight="normal" fill="#111" stroke="#111" stroke-width="0.14">10<tspan font-size="6.6" dy="-3.4">3</tspan></text>
<text transform="translate(310.50,627.80) scale(0.92,1)" font-size="9.0" text-anchor="middle" font-weight="normal" fill="#111" stroke="#111" stroke-width="0.14">10<tspan font-size="6.6" dy="-3.4">4</tspan></text>
<text transform="translate(333.90,627.80) scale(0.92,1)" font-size="9.0" text-anchor="middle" font-weight="normal" fill="#111" stroke="#111" stroke-width="0.14">10<tspan font-size="6.6" dy="-3.4">5</tspan></text>
<path d="M213.7,614.20L216.5,614.20M213.7,592.50L216.5,592.50M213.7,570.80L216.5,570.80M213.7,549.10L216.5,549.10M213.7,527.40L216.5,527.40M213.7,505.70L216.5,505.70M215.0,608.78L216.5,608.78M215.0,603.35L216.5,603.35M215.0,597.93L216.5,597.93M215.0,587.08L216.5,587.08M215.0,581.65L216.5,581.65M215.0,576.23L216.5,576.23M215.0,565.38L216.5,565.38M215.0,559.95L216.5,559.95M215.0,554.52L216.5,554.52M215.0,543.67L216.5,543.67M215.0,538.25L216.5,538.25M215.0,532.83L216.5,532.83M215.0,521.98L216.5,521.98M215.0,516.55L216.5,516.55M215.0,511.12L216.5,511.12M215.0,500.27L216.5,500.27M216.50,614.2L216.50,617.0M223.54,614.2L223.54,615.7M227.66,614.2L227.66,615.7M230.59,614.2L230.59,615.7M232.86,614.2L232.86,615.7M234.71,614.2L234.71,615.7M236.28,614.2L236.28,615.7M237.63,614.2L237.63,615.7M238.83,614.2L238.83,615.7M239.90,614.2L239.90,617.0M246.94,614.2L246.94,615.7M251.06,614.2L251.06,615.7M253.99,614.2L253.99,615.7M256.26,614.2L256.26,615.7M258.11,614.2L258.11,615.7M259.68,614.2L259.68,615.7M261.03,614.2L261.03,615.7M262.23,614.2L262.23,615.7M263.30,614.2L263.30,617.0M270.34,614.2L270.34,615.7M274.46,614.2L274.46,615.7M277.39,614.2L277.39,615.7M279.66,614.2L279.66,615.7M281.51,614.2L281.51,615.7M283.08,614.2L283.08,615.7M284.43,614.2L284.43,615.7M285.63,614.2L285.63,615.7M286.70,614.2L286.70,617.0M293.74,614.2L293.74,615.7M297.86,614.2L297.86,615.7M300.79,614.2L300.79,615.7M303.06,614.2L303.06,615.7M304.91,614.2L304.91,615.7M306.48,614.2L306.48,615.7M307.83,614.2L307.83,615.7M309.03,614.2L309.03,615.7M310.10,614.2L310.10,617.0M317.14,614.2L317.14,615.7M321.26,614.2L321.26,615.7M324.19,614.2L324.19,615.7M326.46,614.2L326.46,615.7M328.31,614.2L328.31,615.7M329.88,614.2L329.88,615.7M331.23,614.2L331.23,615.7M332.43,614.2L332.43,615.7M333.50,614.2L333.50,617.0" stroke="#111" stroke-width="0.8" fill="none"/>
<text transform="translate(275.30,641.80) scale(0.8,1)" font-size="9.4" text-anchor="middle" font-weight="normal" fill="#1a1a1a" stroke="#1a1a1a" stroke-width="0.06">CXCR4 (CD184)</text>
<text transform="translate(190.50,556.50) rotate(-90) scale(0.92,1)" font-size="9.0" text-anchor="middle" font-weight="normal" fill="#111" stroke="#111" stroke-width="0.14">% of max</text>
<text transform="translate(182.50,490.50)" font-size="12.2" text-anchor="start" font-weight="bold" fill="#000" stroke="#000" stroke-width="0.35">J</text>
<rect x="223.29999999999998" y="504.0" width="13.1" height="7.7" fill="#aa0229"/>
<rect x="223.29999999999998" y="517.3" width="13.1" height="7.7" fill="#27467f"/>
<text transform="translate(239.40,510.90) scale(0.88,1)" font-size="6.4" text-anchor="start" font-weight="normal" fill="#333" stroke="#333" stroke-width="0.04">WT<tspan font-size="5.0" dy="-2.6"></tspan></text>
<text transform="translate(239.40,524.40) scale(0.88,1)" font-size="6.4" text-anchor="start" font-weight="normal" fill="#333" stroke="#333" stroke-width="0.04">D1424N<tspan font-size="5.0" dy="-2.6"> +/-</tspan></text>
<path d="M405.96,613.60C406.80,613.07 409.47,612.48 411.02,610.40C412.57,608.32 413.97,605.76 415.24,601.12C416.50,596.48 417.48,587.63 418.61,582.57C419.73,577.51 421.00,574.14 421.98,570.77C422.97,567.39 423.81,566.55 424.51,562.34C425.21,558.12 425.64,551.66 426.20,545.47C426.76,539.29 427.46,530.30 427.88,525.24C428.31,520.18 428.31,517.23 428.73,515.12C429.15,513.01 429.91,512.03 430.41,512.59C430.92,513.15 431.20,516.66 431.76,518.49C432.32,520.32 433.03,521.30 433.79,523.55C434.54,525.80 435.61,528.05 436.32,531.98C437.02,535.92 437.30,542.38 438.00,547.16C438.70,551.94 439.69,555.31 440.53,560.65C441.37,565.99 442.22,573.58 443.06,579.20C443.90,584.82 444.61,589.88 445.59,594.38C446.57,598.87 447.70,602.98 448.96,606.18C450.23,609.38 452.48,612.36 453.18,613.60L453.18,614.2L405.96,614.2Z" fill="#e2e6ee"/>
<path d="M408.49,613.60C409.19,612.36 411.44,608.54 412.71,606.18C413.97,603.82 415.10,602.81 416.08,599.44C417.06,596.06 417.77,590.44 418.61,585.94C419.45,581.45 420.30,576.95 421.14,572.45C421.98,567.96 422.97,563.74 423.67,558.96C424.37,554.18 424.79,546.46 425.35,543.79C425.92,541.12 426.48,544.63 427.04,542.94C427.60,541.26 428.02,537.18 428.73,533.67C429.43,530.15 430.41,524.39 431.26,521.86C432.10,519.33 432.94,518.63 433.79,518.49C434.63,518.35 435.75,520.60 436.32,521.02C436.88,521.44 436.79,518.91 437.16,521.02C437.52,523.13 438.09,528.47 438.51,533.67C438.93,538.87 439.21,547.16 439.69,552.22C440.17,557.28 440.67,559.24 441.37,564.02C442.08,568.80 443.20,575.83 443.90,580.89C444.61,585.94 444.75,590.16 445.59,594.38C446.43,598.59 447.84,603.37 448.96,606.18C450.09,608.99 450.93,610.00 452.34,611.24C453.74,612.48 456.55,613.21 457.39,613.60L457.39,614.2L408.49,614.2Z" fill="#d2a5b3"/>
<path d="M405.96,613.60C406.80,613.07 409.47,612.48 411.02,610.40C412.57,608.32 413.97,605.76 415.24,601.12C416.50,596.48 417.48,587.63 418.61,582.57C419.73,577.51 421.00,574.14 421.98,570.77C422.97,567.39 423.81,566.55 424.51,562.34C425.21,558.12 425.64,551.66 426.20,545.47C426.76,539.29 427.46,530.30 427.88,525.24C428.31,520.18 428.31,517.23 428.73,515.12C429.15,513.01 429.91,512.03 430.41,512.59C430.92,513.15 431.20,516.66 431.76,518.49C432.32,520.32 433.03,521.30 433.79,523.55C434.54,525.80 435.61,528.05 436.32,531.98C437.02,535.92 437.30,542.38 438.00,547.16C438.70,551.94 439.69,555.31 440.53,560.65C441.37,565.99 442.22,573.58 443.06,579.20C443.90,584.82 444.61,589.88 445.59,594.38C446.57,598.87 447.70,602.98 448.96,606.18C450.23,609.38 452.48,612.36 453.18,613.60" fill="none" stroke="#27467f" stroke-width="1.3" stroke-linejoin="round"/>
<path d="M408.49,613.60C409.19,612.36 411.44,608.54 412.71,606.18C413.97,603.82 415.10,602.81 416.08,599.44C417.06,596.06 417.77,590.44 418.61,585.94C419.45,581.45 420.30,576.95 421.14,572.45C421.98,567.96 422.97,563.74 423.67,558.96C424.37,554.18 424.79,546.46 425.35,543.79C425.92,541.12 426.48,544.63 427.04,542.94C427.60,541.26 428.02,537.18 428.73,533.67C429.43,530.15 430.41,524.39 431.26,521.86C432.10,519.33 432.94,518.63 433.79,518.49C434.63,518.35 435.75,520.60 436.32,521.02C436.88,521.44 436.79,518.91 437.16,521.02C437.52,523.13 438.09,528.47 438.51,533.67C438.93,538.87 439.21,547.16 439.69,552.22C440.17,557.28 440.67,559.24 441.37,564.02C442.08,568.80 443.20,575.83 443.90,580.89C444.61,585.94 444.75,590.16 445.59,594.38C446.43,598.59 447.84,603.37 448.96,606.18C450.09,608.99 450.93,610.00 452.34,611.24C453.74,612.48 456.55,613.21 457.39,613.60" fill="none" stroke="#aa0229" stroke-width="1.3" stroke-linejoin="round"/>
<path d="M390.9,497.2L390.9,614.2L510.4,614.2" stroke="#111" stroke-width="1.3" fill="none"/>
<text transform="translate(384.70,617.40) scale(0.9,1)" font-size="9.0" text-anchor="end" font-weight="normal" fill="#1a1a1a" stroke="#1a1a1a" stroke-width="0.06">0</text>
<text transform="translate(384.70,595.70) scale(0.9,1)" font-size="9.0" text-anchor="end" font-weight="normal" fill="#1a1a1a" stroke="#1a1a1a" stroke-width="0.06">20</text>
<text transform="translate(384.70,574.00) scale(0.9,1)" font-size="9.0" text-anchor="end" font-weight="normal" fill="#1a1a1a" stroke="#1a1a1a" stroke-width="0.06">40</text>
<text transform="translate(384.70,552.30) scale(0.9,1)" font-size="9.0" text-anchor="end" font-weight="normal" fill="#1a1a1a" stroke="#1a1a1a" stroke-width="0.06">60</text>
<text transform="translate(384.70,530.60) scale(0.9,1)" font-size="9.0" text-anchor="end" font-weight="normal" fill="#1a1a1a" stroke="#1a1a1a" stroke-width="0.06">80</text>
<text transform="translate(384.70,508.90) scale(0.9,1)" font-size="9.0" text-anchor="end" font-weight="normal" fill="#1a1a1a" stroke="#1a1a1a" stroke-width="0.06">100</text>
<text transform="translate(391.30,627.80) scale(0.92,1)" font-size="9.0" text-anchor="middle" font-weight="normal" fill="#111" stroke="#111" stroke-width="0.14">10<tspan font-size="6.6" dy="-3.4">0</tspan></text>
<text transform="translate(414.70,627.80) scale(0.92,1)" font-size="9.0" text-anchor="middle" font-weight="normal" fill="#111" stroke="#111" stroke-width="0.14">10<tspan font-size="6.6" dy="-3.4">1</tspan></text>
<text transform="translate(438.10,627.80) scale(0.92,1)" font-size="9.0" text-anchor="middle" font-weight="normal" fill="#111" stroke="#111" stroke-width="0.14">10<tspan font-size="6.6" dy="-3.4">2</tspan></text>
<text transform="translate(461.50,627.80) scale(0.92,1)" font-size="9.0" text-anchor="middle" font-weight="normal" fill="#111" stroke="#111" stroke-width="0.14">10<tspan font-size="6.6" dy="-3.4">3</tspan></text>
<text transform="translate(484.90,627.80) scale(0.92,1)" font-size="9.0" text-anchor="middle" font-weight="normal" fill="#111" stroke="#111" stroke-width="0.14">10<tspan font-size="6.6" dy="-3.4">4</tspan></text>
<text transform="translate(508.30,627.80) scale(0.92,1)" font-size="9.0" text-anchor="middle" font-weight="normal" fill="#111" stroke="#111" stroke-width="0.14">10<tspan font-size="6.6" dy="-3.4">5</tspan></text>
<path d="M388.09999999999997,614.20L390.9,614.20M388.09999999999997,592.50L390.9,592.50M388.09999999999997,570.80L390.9,570.80M388.09999999999997,549.10L390.9,549.10M388.09999999999997,527.40L390.9,527.40M388.09999999999997,505.70L390.9,505.70M389.4,608.78L390.9,608.78M389.4,603.35L390.9,603.35M389.4,597.93L390.9,597.93M389.4,587.08L390.9,587.08M389.4,581.65L390.9,581.65M389.4,576.23L390.9,576.23M389.4,565.38L390.9,565.38M389.4,559.95L390.9,559.95M389.4,554.52L390.9,554.52M389.4,543.67L390.9,543.67M389.4,538.25L390.9,538.25M389.4,532.83L390.9,532.83M389.4,521.98L390.9,521.98M389.4,516.55L390.9,516.55M389.4,511.12L390.9,511.12M389.4,500.27L390.9,500.27M390.90,614.2L390.90,617.0M397.94,614.2L397.94,615.7M402.06,614.2L402.06,615.7M404.99,614.2L404.99,615.7M407.26,614.2L407.26,615.7M409.11,614.2L409.11,615.7M410.68,614.2L410.68,615.7M412.03,614.2L412.03,615.7M413.23,614.2L413.23,615.7M414.30,614.2L414.30,617.0M421.34,614.2L421.34,615.7M425.46,614.2L425.46,615.7M428.39,614.2L428.39,615.7M430.66,614.2L430.66,615.7M432.51,614.2L432.51,615.7M434.08,614.2L434.08,615.7M435.43,614.2L435.43,615.7M436.63,614.2L436.63,615.7M437.70,614.2L437.70,617.0M444.74,614.2L444.74,615.7M448.86,614.2L448.86,615.7M451.79,614.2L451.79,615.7M454.06,614.2L454.06,615.7M455.91,614.2L455.91,615.7M457.48,614.2L457.48,615.7M458.83,614.2L458.83,615.7M460.03,614.2L460.03,615.7M461.10,614.2L461.10,617.0M468.14,614.2L468.14,615.7M472.26,614.2L472.26,615.7M475.19,614.2L475.19,615.7M477.46,614.2L477.46,615.7M479.31,614.2L479.31,615.7M480.88,614.2L480.88,615.7M482.23,614.2L482.23,615.7M483.43,614.2L483.43,615.7M484.50,614.2L484.50,617.0M491.54,614.2L491.54,615.7M495.66,614.2L495.66,615.7M498.59,614.2L498.59,615.7M500.86,614.2L500.86,615.7M502.71,614.2L502.71,615.7M504.28,614.2L504.28,615.7M505.63,614.2L505.63,615.7M506.83,614.2L506.83,615.7M507.90,614.2L507.90,617.0" stroke="#111" stroke-width="0.8" fill="none"/>
<text transform="translate(449.70,641.80) scale(0.8,1)" font-size="9.4" text-anchor="middle" font-weight="normal" fill="#1a1a1a" stroke="#1a1a1a" stroke-width="0.06">CXCR4 (CD184)</text>
<text transform="translate(364.90,556.50) rotate(-90) scale(0.92,1)" font-size="9.0" text-anchor="middle" font-weight="normal" fill="#111" stroke="#111" stroke-width="0.14">% of max</text>
<text transform="translate(357.50,490.50)" font-size="12.2" text-anchor="start" font-weight="bold" fill="#000" stroke="#000" stroke-width="0.35">K</text>
<rect x="453.2" y="504.0" width="13.1" height="7.7" fill="#aa0229"/>
<rect x="453.2" y="517.3" width="13.1" height="7.7" fill="#27467f"/>
<text transform="translate(469.30,510.90) scale(0.88,1)" font-size="6.4" text-anchor="start" font-weight="normal" fill="#333" stroke="#333" stroke-width="0.04">WT<tspan font-size="5.0" dy="-2.6"></tspan></text>
<text transform="translate(469.30,524.40) scale(0.88,1)" font-size="6.4" text-anchor="start" font-weight="normal" fill="#333" stroke="#333" stroke-width="0.04">E1841K<tspan font-size="5.0" dy="-2.6"> +/-</tspan></text>
<rect x="0.6" y="0.6" width="518.8" height="650.8" fill="none" stroke="#000" stroke-width="1.3"/>
</svg></body></html>
